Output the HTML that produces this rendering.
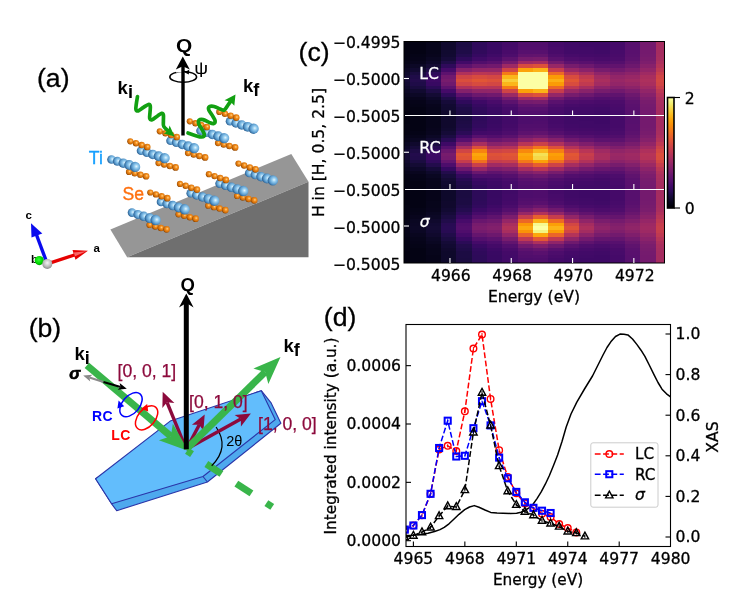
<!DOCTYPE html>
<html lang="en"><head><meta charset="utf-8"><title>Figure</title>
<style>html,body{margin:0;padding:0;background:#fff}svg{display:block}.dj{font-family:"DejaVu Sans","Liberation Sans",sans-serif;stroke:#000;stroke-width:0.3px}.wt{stroke:#fff}.ar{font-family:"Liberation Sans",Arial,sans-serif}.lb{stroke:#000;stroke-width:0.3px}</style></head><body>
<svg width="732" height="598" viewBox="0 0 732 598">
<rect width="732" height="598" fill="#fff"/>
<defs>
<radialGradient id="gTi" cx="0.62" cy="0.45" r="0.6"><stop offset="0" stop-color="#e6f6ff"/><stop offset="0.3" stop-color="#97cef0"/><stop offset="0.7" stop-color="#5a9bce"/><stop offset="1" stop-color="#2d6293"/></radialGradient>
<radialGradient id="gSe" cx="0.6" cy="0.42" r="0.6"><stop offset="0" stop-color="#ffd58a"/><stop offset="0.35" stop-color="#f59020"/><stop offset="0.8" stop-color="#cc6a06"/><stop offset="1" stop-color="#8c4300"/></radialGradient>
<radialGradient id="gGrey" cx="0.5" cy="0.4" r="0.6"><stop offset="0" stop-color="#f4f4f4"/><stop offset="0.6" stop-color="#bdbdbd"/><stop offset="1" stop-color="#8a8a8a"/></radialGradient>
<radialGradient id="gGreen" cx="0.45" cy="0.4" r="0.6"><stop offset="0" stop-color="#35ff35"/><stop offset="0.7" stop-color="#00d400"/><stop offset="1" stop-color="#00a000"/></radialGradient>
<linearGradient id="gCb" x1="0" y1="1" x2="0" y2="0">
<stop offset="0" stop-color="#000004"/>
<stop offset="0.05" stop-color="#07051b"/>
<stop offset="0.1" stop-color="#160b39"/>
<stop offset="0.15" stop-color="#2b0b57"/>
<stop offset="0.2" stop-color="#420a68"/>
<stop offset="0.25" stop-color="#57106e"/>
<stop offset="0.3" stop-color="#6a176e"/>
<stop offset="0.35" stop-color="#7f1e6c"/>
<stop offset="0.4" stop-color="#932667"/>
<stop offset="0.45" stop-color="#a82e5f"/>
<stop offset="0.5" stop-color="#bc3754"/>
<stop offset="0.55" stop-color="#cc4248"/>
<stop offset="0.6" stop-color="#dd513a"/>
<stop offset="0.65" stop-color="#ea632a"/>
<stop offset="0.7" stop-color="#f37819"/>
<stop offset="0.75" stop-color="#f98e09"/>
<stop offset="0.8" stop-color="#fca50a"/>
<stop offset="0.85" stop-color="#fbbe23"/>
<stop offset="0.9" stop-color="#f6d746"/>
<stop offset="0.95" stop-color="#f1ef75"/>
<stop offset="1" stop-color="#fcffa4"/>
</linearGradient>
</defs>
<g shape-rendering="crispEdges">
<rect x="404" y="41.5" width="6.76" height="1.73" fill="#030210"/>
<rect x="404" y="42.93" width="6.76" height="3.88" fill="#030210"/>
<rect x="404" y="46.51" width="6.76" height="3.88" fill="#030210"/>
<rect x="404" y="50.09" width="6.76" height="3.88" fill="#040312"/>
<rect x="404" y="53.67" width="6.76" height="3.88" fill="#040312"/>
<rect x="404" y="57.25" width="6.76" height="3.88" fill="#040314"/>
<rect x="404" y="60.83" width="6.76" height="3.88" fill="#050417"/>
<rect x="404" y="64.41" width="6.76" height="3.88" fill="#08051d"/>
<rect x="404" y="67.99" width="6.76" height="3.88" fill="#0b0724"/>
<rect x="404" y="71.57" width="6.76" height="3.88" fill="#0e092b"/>
<rect x="404" y="75.15" width="6.76" height="3.88" fill="#120a32"/>
<rect x="404" y="78.73" width="6.76" height="3.88" fill="#150b37"/>
<rect x="404" y="82.31" width="6.76" height="3.88" fill="#120a32"/>
<rect x="404" y="85.89" width="6.76" height="3.88" fill="#0e092b"/>
<rect x="404" y="89.47" width="6.76" height="3.88" fill="#0b0724"/>
<rect x="404" y="93.05" width="6.76" height="3.88" fill="#08051d"/>
<rect x="404" y="96.63" width="6.76" height="3.88" fill="#050417"/>
<rect x="404" y="100.21" width="6.76" height="3.88" fill="#040314"/>
<rect x="404" y="103.79" width="6.76" height="3.88" fill="#040312"/>
<rect x="404" y="107.37" width="6.76" height="3.88" fill="#040312"/>
<rect x="404" y="110.95" width="6.76" height="3.88" fill="#030210"/>
<rect x="404" y="114.53" width="6.76" height="1.27" fill="#030210"/>
<rect x="410.46" y="41.5" width="15.62" height="1.73" fill="#040314"/>
<rect x="410.46" y="42.93" width="15.62" height="3.88" fill="#040314"/>
<rect x="410.46" y="46.51" width="15.62" height="3.88" fill="#040314"/>
<rect x="410.46" y="50.09" width="15.62" height="3.88" fill="#040314"/>
<rect x="410.46" y="53.67" width="15.62" height="3.88" fill="#050417"/>
<rect x="410.46" y="57.25" width="15.62" height="3.88" fill="#060419"/>
<rect x="410.46" y="60.83" width="15.62" height="3.88" fill="#08051d"/>
<rect x="410.46" y="64.41" width="15.62" height="3.88" fill="#0c0826"/>
<rect x="410.46" y="67.99" width="15.62" height="3.88" fill="#110a30"/>
<rect x="410.46" y="71.57" width="15.62" height="3.88" fill="#190c3e"/>
<rect x="410.46" y="75.15" width="15.62" height="3.88" fill="#1f0c48"/>
<rect x="410.46" y="78.73" width="15.62" height="3.88" fill="#230c4c"/>
<rect x="410.46" y="82.31" width="15.62" height="3.88" fill="#1f0c48"/>
<rect x="410.46" y="85.89" width="15.62" height="3.88" fill="#190c3e"/>
<rect x="410.46" y="89.47" width="15.62" height="3.88" fill="#110a30"/>
<rect x="410.46" y="93.05" width="15.62" height="3.88" fill="#0c0826"/>
<rect x="410.46" y="96.63" width="15.62" height="3.88" fill="#08051d"/>
<rect x="410.46" y="100.21" width="15.62" height="3.88" fill="#060419"/>
<rect x="410.46" y="103.79" width="15.62" height="3.88" fill="#050417"/>
<rect x="410.46" y="107.37" width="15.62" height="3.88" fill="#040314"/>
<rect x="410.46" y="110.95" width="15.62" height="3.88" fill="#040314"/>
<rect x="410.46" y="114.53" width="15.62" height="1.27" fill="#040314"/>
<rect x="425.79" y="41.5" width="15.62" height="1.73" fill="#060419"/>
<rect x="425.79" y="42.93" width="15.62" height="3.88" fill="#07051b"/>
<rect x="425.79" y="46.51" width="15.62" height="3.88" fill="#07051b"/>
<rect x="425.79" y="50.09" width="15.62" height="3.88" fill="#07051b"/>
<rect x="425.79" y="53.67" width="15.62" height="3.88" fill="#08051d"/>
<rect x="425.79" y="57.25" width="15.62" height="3.88" fill="#0a0722"/>
<rect x="425.79" y="60.83" width="15.62" height="3.88" fill="#0d0829"/>
<rect x="425.79" y="64.41" width="15.62" height="3.88" fill="#140b34"/>
<rect x="425.79" y="67.99" width="15.62" height="3.88" fill="#1e0c45"/>
<rect x="425.79" y="71.57" width="15.62" height="3.88" fill="#2d0b59"/>
<rect x="425.79" y="75.15" width="15.62" height="3.88" fill="#380962"/>
<rect x="425.79" y="78.73" width="15.62" height="3.88" fill="#3d0965"/>
<rect x="425.79" y="82.31" width="15.62" height="3.88" fill="#380962"/>
<rect x="425.79" y="85.89" width="15.62" height="3.88" fill="#2b0b57"/>
<rect x="425.79" y="89.47" width="15.62" height="3.88" fill="#1e0c45"/>
<rect x="425.79" y="93.05" width="15.62" height="3.88" fill="#140b34"/>
<rect x="425.79" y="96.63" width="15.62" height="3.88" fill="#0d0829"/>
<rect x="425.79" y="100.21" width="15.62" height="3.88" fill="#0a0722"/>
<rect x="425.79" y="103.79" width="15.62" height="3.88" fill="#08051d"/>
<rect x="425.79" y="107.37" width="15.62" height="3.88" fill="#07051b"/>
<rect x="425.79" y="110.95" width="15.62" height="3.88" fill="#07051b"/>
<rect x="425.79" y="114.53" width="15.62" height="1.27" fill="#07051b"/>
<rect x="441.11" y="41.5" width="15.62" height="1.73" fill="#0e092b"/>
<rect x="441.11" y="42.93" width="15.62" height="3.88" fill="#10092d"/>
<rect x="441.11" y="46.51" width="15.62" height="3.88" fill="#10092d"/>
<rect x="441.11" y="50.09" width="15.62" height="3.88" fill="#110a30"/>
<rect x="441.11" y="53.67" width="15.62" height="3.88" fill="#120a32"/>
<rect x="441.11" y="57.25" width="15.62" height="3.88" fill="#160b39"/>
<rect x="441.11" y="60.83" width="15.62" height="3.88" fill="#1f0c48"/>
<rect x="441.11" y="64.41" width="15.62" height="3.88" fill="#2f0a5b"/>
<rect x="441.11" y="67.99" width="15.62" height="3.88" fill="#450a69"/>
<rect x="441.11" y="71.57" width="15.62" height="3.88" fill="#5d126e"/>
<rect x="441.11" y="75.15" width="15.62" height="3.88" fill="#71196e"/>
<rect x="441.11" y="78.73" width="15.62" height="3.88" fill="#771c6d"/>
<rect x="441.11" y="82.31" width="15.62" height="3.88" fill="#6f196e"/>
<rect x="441.11" y="85.89" width="15.62" height="3.88" fill="#5d126e"/>
<rect x="441.11" y="89.47" width="15.62" height="3.88" fill="#450a69"/>
<rect x="441.11" y="93.05" width="15.62" height="3.88" fill="#2f0a5b"/>
<rect x="441.11" y="96.63" width="15.62" height="3.88" fill="#1f0c48"/>
<rect x="441.11" y="100.21" width="15.62" height="3.88" fill="#160b39"/>
<rect x="441.11" y="103.79" width="15.62" height="3.88" fill="#120a32"/>
<rect x="441.11" y="107.37" width="15.62" height="3.88" fill="#110a30"/>
<rect x="441.11" y="110.95" width="15.62" height="3.88" fill="#10092d"/>
<rect x="441.11" y="114.53" width="15.62" height="1.27" fill="#10092d"/>
<rect x="456.43" y="41.5" width="15.62" height="1.73" fill="#1c0c43"/>
<rect x="456.43" y="42.93" width="15.62" height="3.88" fill="#1c0c43"/>
<rect x="456.43" y="46.51" width="15.62" height="3.88" fill="#1e0c45"/>
<rect x="456.43" y="50.09" width="15.62" height="3.88" fill="#1f0c48"/>
<rect x="456.43" y="53.67" width="15.62" height="3.88" fill="#240c4f"/>
<rect x="456.43" y="57.25" width="15.62" height="3.88" fill="#2f0a5b"/>
<rect x="456.43" y="60.83" width="15.62" height="3.88" fill="#420a68"/>
<rect x="456.43" y="64.41" width="15.62" height="3.88" fill="#5d126e"/>
<rect x="456.43" y="67.99" width="15.62" height="3.88" fill="#85216b"/>
<rect x="456.43" y="71.57" width="15.62" height="3.88" fill="#b0315b"/>
<rect x="456.43" y="75.15" width="15.62" height="3.88" fill="#cf4446"/>
<rect x="456.43" y="78.73" width="15.62" height="3.88" fill="#da4e3c"/>
<rect x="456.43" y="82.31" width="15.62" height="3.88" fill="#cf4446"/>
<rect x="456.43" y="85.89" width="15.62" height="3.88" fill="#ae305c"/>
<rect x="456.43" y="89.47" width="15.62" height="3.88" fill="#84206b"/>
<rect x="456.43" y="93.05" width="15.62" height="3.88" fill="#5d126e"/>
<rect x="456.43" y="96.63" width="15.62" height="3.88" fill="#400a67"/>
<rect x="456.43" y="100.21" width="15.62" height="3.88" fill="#2f0a5b"/>
<rect x="456.43" y="103.79" width="15.62" height="3.88" fill="#240c4f"/>
<rect x="456.43" y="107.37" width="15.62" height="3.88" fill="#1f0c48"/>
<rect x="456.43" y="110.95" width="15.62" height="3.88" fill="#1e0c45"/>
<rect x="456.43" y="114.53" width="15.62" height="1.27" fill="#1c0c43"/>
<rect x="471.76" y="41.5" width="15.62" height="1.73" fill="#2d0b59"/>
<rect x="471.76" y="42.93" width="15.62" height="3.88" fill="#2f0a5b"/>
<rect x="471.76" y="46.51" width="15.62" height="3.88" fill="#2f0a5b"/>
<rect x="471.76" y="50.09" width="15.62" height="3.88" fill="#310a5c"/>
<rect x="471.76" y="53.67" width="15.62" height="3.88" fill="#360961"/>
<rect x="471.76" y="57.25" width="15.62" height="3.88" fill="#400a67"/>
<rect x="471.76" y="60.83" width="15.62" height="3.88" fill="#510e6c"/>
<rect x="471.76" y="64.41" width="15.62" height="3.88" fill="#6c186e"/>
<rect x="471.76" y="67.99" width="15.62" height="3.88" fill="#922568"/>
<rect x="471.76" y="71.57" width="15.62" height="3.88" fill="#ba3655"/>
<rect x="471.76" y="75.15" width="15.62" height="3.88" fill="#d74b3f"/>
<rect x="471.76" y="78.73" width="15.62" height="3.88" fill="#e15635"/>
<rect x="471.76" y="82.31" width="15.62" height="3.88" fill="#d74b3f"/>
<rect x="471.76" y="85.89" width="15.62" height="3.88" fill="#b93556"/>
<rect x="471.76" y="89.47" width="15.62" height="3.88" fill="#902568"/>
<rect x="471.76" y="93.05" width="15.62" height="3.88" fill="#6c186e"/>
<rect x="471.76" y="96.63" width="15.62" height="3.88" fill="#510e6c"/>
<rect x="471.76" y="100.21" width="15.62" height="3.88" fill="#3e0966"/>
<rect x="471.76" y="103.79" width="15.62" height="3.88" fill="#360961"/>
<rect x="471.76" y="107.37" width="15.62" height="3.88" fill="#310a5c"/>
<rect x="471.76" y="110.95" width="15.62" height="3.88" fill="#2f0a5b"/>
<rect x="471.76" y="114.53" width="15.62" height="1.27" fill="#2f0a5b"/>
<rect x="487.08" y="41.5" width="15.62" height="1.73" fill="#390963"/>
<rect x="487.08" y="42.93" width="15.62" height="3.88" fill="#390963"/>
<rect x="487.08" y="46.51" width="15.62" height="3.88" fill="#390963"/>
<rect x="487.08" y="50.09" width="15.62" height="3.88" fill="#3b0964"/>
<rect x="487.08" y="53.67" width="15.62" height="3.88" fill="#400a67"/>
<rect x="487.08" y="57.25" width="15.62" height="3.88" fill="#490b6a"/>
<rect x="487.08" y="60.83" width="15.62" height="3.88" fill="#59106e"/>
<rect x="487.08" y="64.41" width="15.62" height="3.88" fill="#71196e"/>
<rect x="487.08" y="67.99" width="15.62" height="3.88" fill="#932667"/>
<rect x="487.08" y="71.57" width="15.62" height="3.88" fill="#b73557"/>
<rect x="487.08" y="75.15" width="15.62" height="3.88" fill="#d34743"/>
<rect x="487.08" y="78.73" width="15.62" height="3.88" fill="#dd513a"/>
<rect x="487.08" y="82.31" width="15.62" height="3.88" fill="#d34743"/>
<rect x="487.08" y="85.89" width="15.62" height="3.88" fill="#b73557"/>
<rect x="487.08" y="89.47" width="15.62" height="3.88" fill="#922568"/>
<rect x="487.08" y="93.05" width="15.62" height="3.88" fill="#71196e"/>
<rect x="487.08" y="96.63" width="15.62" height="3.88" fill="#57106e"/>
<rect x="487.08" y="100.21" width="15.62" height="3.88" fill="#490b6a"/>
<rect x="487.08" y="103.79" width="15.62" height="3.88" fill="#400a67"/>
<rect x="487.08" y="107.37" width="15.62" height="3.88" fill="#3b0964"/>
<rect x="487.08" y="110.95" width="15.62" height="3.88" fill="#390963"/>
<rect x="487.08" y="114.53" width="15.62" height="1.27" fill="#390963"/>
<rect x="502.4" y="41.5" width="15.62" height="1.73" fill="#420a68"/>
<rect x="502.4" y="42.93" width="15.62" height="3.88" fill="#440a68"/>
<rect x="502.4" y="46.51" width="15.62" height="3.88" fill="#450a69"/>
<rect x="502.4" y="50.09" width="15.62" height="3.88" fill="#490b6a"/>
<rect x="502.4" y="53.67" width="15.62" height="3.88" fill="#4d0d6c"/>
<rect x="502.4" y="57.25" width="15.62" height="3.88" fill="#5c126e"/>
<rect x="502.4" y="60.83" width="15.62" height="3.88" fill="#741a6e"/>
<rect x="502.4" y="64.41" width="15.62" height="3.88" fill="#9d2964"/>
<rect x="502.4" y="67.99" width="15.62" height="3.88" fill="#cf4446"/>
<rect x="502.4" y="71.57" width="15.62" height="3.88" fill="#f57b17"/>
<rect x="502.4" y="75.15" width="15.62" height="3.88" fill="#fbb61a"/>
<rect x="502.4" y="78.73" width="15.62" height="3.88" fill="#f8cf3a"/>
<rect x="502.4" y="82.31" width="15.62" height="3.88" fill="#fbb61a"/>
<rect x="502.4" y="85.89" width="15.62" height="3.88" fill="#f57b17"/>
<rect x="502.4" y="89.47" width="15.62" height="3.88" fill="#cf4446"/>
<rect x="502.4" y="93.05" width="15.62" height="3.88" fill="#9b2964"/>
<rect x="502.4" y="96.63" width="15.62" height="3.88" fill="#741a6e"/>
<rect x="502.4" y="100.21" width="15.62" height="3.88" fill="#5c126e"/>
<rect x="502.4" y="103.79" width="15.62" height="3.88" fill="#4d0d6c"/>
<rect x="502.4" y="107.37" width="15.62" height="3.88" fill="#470b6a"/>
<rect x="502.4" y="110.95" width="15.62" height="3.88" fill="#450a69"/>
<rect x="502.4" y="114.53" width="15.62" height="1.27" fill="#440a68"/>
<rect x="517.73" y="41.5" width="15.62" height="1.73" fill="#4f0d6c"/>
<rect x="517.73" y="42.93" width="15.62" height="3.88" fill="#510e6c"/>
<rect x="517.73" y="46.51" width="15.62" height="3.88" fill="#520e6d"/>
<rect x="517.73" y="50.09" width="15.62" height="3.88" fill="#57106e"/>
<rect x="517.73" y="53.67" width="15.62" height="3.88" fill="#61136e"/>
<rect x="517.73" y="57.25" width="15.62" height="3.88" fill="#751b6e"/>
<rect x="517.73" y="60.83" width="15.62" height="3.88" fill="#9d2964"/>
<rect x="517.73" y="64.41" width="15.62" height="3.88" fill="#d74b3f"/>
<rect x="517.73" y="67.99" width="15.62" height="3.88" fill="#fca309"/>
<rect x="517.73" y="71.57" width="15.62" height="3.88" fill="#fcffa4"/>
<rect x="517.73" y="75.15" width="15.62" height="3.88" fill="#fcffa4"/>
<rect x="517.73" y="78.73" width="15.62" height="3.88" fill="#fcffa4"/>
<rect x="517.73" y="82.31" width="15.62" height="3.88" fill="#fcffa4"/>
<rect x="517.73" y="85.89" width="15.62" height="3.88" fill="#fcffa4"/>
<rect x="517.73" y="89.47" width="15.62" height="3.88" fill="#fca108"/>
<rect x="517.73" y="93.05" width="15.62" height="3.88" fill="#d54a41"/>
<rect x="517.73" y="96.63" width="15.62" height="3.88" fill="#9b2964"/>
<rect x="517.73" y="100.21" width="15.62" height="3.88" fill="#751b6e"/>
<rect x="517.73" y="103.79" width="15.62" height="3.88" fill="#61136e"/>
<rect x="517.73" y="107.37" width="15.62" height="3.88" fill="#57106e"/>
<rect x="517.73" y="110.95" width="15.62" height="3.88" fill="#520e6d"/>
<rect x="517.73" y="114.53" width="15.62" height="1.27" fill="#510e6c"/>
<rect x="533.05" y="41.5" width="15.62" height="1.73" fill="#4f0d6c"/>
<rect x="533.05" y="42.93" width="15.62" height="3.88" fill="#510e6c"/>
<rect x="533.05" y="46.51" width="15.62" height="3.88" fill="#520e6d"/>
<rect x="533.05" y="50.09" width="15.62" height="3.88" fill="#57106e"/>
<rect x="533.05" y="53.67" width="15.62" height="3.88" fill="#62146e"/>
<rect x="533.05" y="57.25" width="15.62" height="3.88" fill="#781c6d"/>
<rect x="533.05" y="60.83" width="15.62" height="3.88" fill="#a22b62"/>
<rect x="533.05" y="64.41" width="15.62" height="3.88" fill="#dd513a"/>
<rect x="533.05" y="67.99" width="15.62" height="3.88" fill="#fcb216"/>
<rect x="533.05" y="71.57" width="15.62" height="3.88" fill="#fcffa4"/>
<rect x="533.05" y="75.15" width="15.62" height="3.88" fill="#fcffa4"/>
<rect x="533.05" y="78.73" width="15.62" height="3.88" fill="#fcffa4"/>
<rect x="533.05" y="82.31" width="15.62" height="3.88" fill="#fcffa4"/>
<rect x="533.05" y="85.89" width="15.62" height="3.88" fill="#fcffa4"/>
<rect x="533.05" y="89.47" width="15.62" height="3.88" fill="#fcb216"/>
<rect x="533.05" y="93.05" width="15.62" height="3.88" fill="#dd513a"/>
<rect x="533.05" y="96.63" width="15.62" height="3.88" fill="#a22b62"/>
<rect x="533.05" y="100.21" width="15.62" height="3.88" fill="#781c6d"/>
<rect x="533.05" y="103.79" width="15.62" height="3.88" fill="#62146e"/>
<rect x="533.05" y="107.37" width="15.62" height="3.88" fill="#57106e"/>
<rect x="533.05" y="110.95" width="15.62" height="3.88" fill="#520e6d"/>
<rect x="533.05" y="114.53" width="15.62" height="1.27" fill="#510e6c"/>
<rect x="548.37" y="41.5" width="15.62" height="1.73" fill="#450a69"/>
<rect x="548.37" y="42.93" width="15.62" height="3.88" fill="#450a69"/>
<rect x="548.37" y="46.51" width="15.62" height="3.88" fill="#470b6a"/>
<rect x="548.37" y="50.09" width="15.62" height="3.88" fill="#490b6a"/>
<rect x="548.37" y="53.67" width="15.62" height="3.88" fill="#4f0d6c"/>
<rect x="548.37" y="57.25" width="15.62" height="3.88" fill="#5a116e"/>
<rect x="548.37" y="60.83" width="15.62" height="3.88" fill="#721a6e"/>
<rect x="548.37" y="64.41" width="15.62" height="3.88" fill="#972766"/>
<rect x="548.37" y="67.99" width="15.62" height="3.88" fill="#c63d4d"/>
<rect x="548.37" y="71.57" width="15.62" height="3.88" fill="#ed6925"/>
<rect x="548.37" y="75.15" width="15.62" height="3.88" fill="#fb9b06"/>
<rect x="548.37" y="78.73" width="15.62" height="3.88" fill="#fcb014"/>
<rect x="548.37" y="82.31" width="15.62" height="3.88" fill="#fb9b06"/>
<rect x="548.37" y="85.89" width="15.62" height="3.88" fill="#ed6925"/>
<rect x="548.37" y="89.47" width="15.62" height="3.88" fill="#c63d4d"/>
<rect x="548.37" y="93.05" width="15.62" height="3.88" fill="#952667"/>
<rect x="548.37" y="96.63" width="15.62" height="3.88" fill="#71196e"/>
<rect x="548.37" y="100.21" width="15.62" height="3.88" fill="#5a116e"/>
<rect x="548.37" y="103.79" width="15.62" height="3.88" fill="#4f0d6c"/>
<rect x="548.37" y="107.37" width="15.62" height="3.88" fill="#490b6a"/>
<rect x="548.37" y="110.95" width="15.62" height="3.88" fill="#470b6a"/>
<rect x="548.37" y="114.53" width="15.62" height="1.27" fill="#450a69"/>
<rect x="563.7" y="41.5" width="15.62" height="1.73" fill="#3e0966"/>
<rect x="563.7" y="42.93" width="15.62" height="3.88" fill="#400a67"/>
<rect x="563.7" y="46.51" width="15.62" height="3.88" fill="#400a67"/>
<rect x="563.7" y="50.09" width="15.62" height="3.88" fill="#420a68"/>
<rect x="563.7" y="53.67" width="15.62" height="3.88" fill="#470b6a"/>
<rect x="563.7" y="57.25" width="15.62" height="3.88" fill="#4f0d6c"/>
<rect x="563.7" y="60.83" width="15.62" height="3.88" fill="#5d126e"/>
<rect x="563.7" y="64.41" width="15.62" height="3.88" fill="#771c6d"/>
<rect x="563.7" y="67.99" width="15.62" height="3.88" fill="#982766"/>
<rect x="563.7" y="71.57" width="15.62" height="3.88" fill="#bd3853"/>
<rect x="563.7" y="75.15" width="15.62" height="3.88" fill="#d84c3e"/>
<rect x="563.7" y="78.73" width="15.62" height="3.88" fill="#e15635"/>
<rect x="563.7" y="82.31" width="15.62" height="3.88" fill="#d84c3e"/>
<rect x="563.7" y="85.89" width="15.62" height="3.88" fill="#bd3853"/>
<rect x="563.7" y="89.47" width="15.62" height="3.88" fill="#982766"/>
<rect x="563.7" y="93.05" width="15.62" height="3.88" fill="#771c6d"/>
<rect x="563.7" y="96.63" width="15.62" height="3.88" fill="#5d126e"/>
<rect x="563.7" y="100.21" width="15.62" height="3.88" fill="#4f0d6c"/>
<rect x="563.7" y="103.79" width="15.62" height="3.88" fill="#470b6a"/>
<rect x="563.7" y="107.37" width="15.62" height="3.88" fill="#420a68"/>
<rect x="563.7" y="110.95" width="15.62" height="3.88" fill="#400a67"/>
<rect x="563.7" y="114.53" width="15.62" height="1.27" fill="#400a67"/>
<rect x="579.02" y="41.5" width="15.62" height="1.73" fill="#3e0966"/>
<rect x="579.02" y="42.93" width="15.62" height="3.88" fill="#3e0966"/>
<rect x="579.02" y="46.51" width="15.62" height="3.88" fill="#400a67"/>
<rect x="579.02" y="50.09" width="15.62" height="3.88" fill="#420a68"/>
<rect x="579.02" y="53.67" width="15.62" height="3.88" fill="#450a69"/>
<rect x="579.02" y="57.25" width="15.62" height="3.88" fill="#4c0c6b"/>
<rect x="579.02" y="60.83" width="15.62" height="3.88" fill="#59106e"/>
<rect x="579.02" y="64.41" width="15.62" height="3.88" fill="#6d186e"/>
<rect x="579.02" y="67.99" width="15.62" height="3.88" fill="#8a226a"/>
<rect x="579.02" y="71.57" width="15.62" height="3.88" fill="#a82e5f"/>
<rect x="579.02" y="75.15" width="15.62" height="3.88" fill="#c13a50"/>
<rect x="579.02" y="78.73" width="15.62" height="3.88" fill="#ca404a"/>
<rect x="579.02" y="82.31" width="15.62" height="3.88" fill="#c13a50"/>
<rect x="579.02" y="85.89" width="15.62" height="3.88" fill="#a82e5f"/>
<rect x="579.02" y="89.47" width="15.62" height="3.88" fill="#88226a"/>
<rect x="579.02" y="93.05" width="15.62" height="3.88" fill="#6d186e"/>
<rect x="579.02" y="96.63" width="15.62" height="3.88" fill="#59106e"/>
<rect x="579.02" y="100.21" width="15.62" height="3.88" fill="#4c0c6b"/>
<rect x="579.02" y="103.79" width="15.62" height="3.88" fill="#450a69"/>
<rect x="579.02" y="107.37" width="15.62" height="3.88" fill="#420a68"/>
<rect x="579.02" y="110.95" width="15.62" height="3.88" fill="#400a67"/>
<rect x="579.02" y="114.53" width="15.62" height="1.27" fill="#3e0966"/>
<rect x="594.34" y="41.5" width="15.62" height="1.73" fill="#3e0966"/>
<rect x="594.34" y="42.93" width="15.62" height="3.88" fill="#3e0966"/>
<rect x="594.34" y="46.51" width="15.62" height="3.88" fill="#3e0966"/>
<rect x="594.34" y="50.09" width="15.62" height="3.88" fill="#400a67"/>
<rect x="594.34" y="53.67" width="15.62" height="3.88" fill="#440a68"/>
<rect x="594.34" y="57.25" width="15.62" height="3.88" fill="#490b6a"/>
<rect x="594.34" y="60.83" width="15.62" height="3.88" fill="#520e6d"/>
<rect x="594.34" y="64.41" width="15.62" height="3.88" fill="#61136e"/>
<rect x="594.34" y="67.99" width="15.62" height="3.88" fill="#771c6d"/>
<rect x="594.34" y="71.57" width="15.62" height="3.88" fill="#8f2469"/>
<rect x="594.34" y="75.15" width="15.62" height="3.88" fill="#a22b62"/>
<rect x="594.34" y="78.73" width="15.62" height="3.88" fill="#a92e5e"/>
<rect x="594.34" y="82.31" width="15.62" height="3.88" fill="#a22b62"/>
<rect x="594.34" y="85.89" width="15.62" height="3.88" fill="#8d2369"/>
<rect x="594.34" y="89.47" width="15.62" height="3.88" fill="#771c6d"/>
<rect x="594.34" y="93.05" width="15.62" height="3.88" fill="#61136e"/>
<rect x="594.34" y="96.63" width="15.62" height="3.88" fill="#520e6d"/>
<rect x="594.34" y="100.21" width="15.62" height="3.88" fill="#490b6a"/>
<rect x="594.34" y="103.79" width="15.62" height="3.88" fill="#440a68"/>
<rect x="594.34" y="107.37" width="15.62" height="3.88" fill="#400a67"/>
<rect x="594.34" y="110.95" width="15.62" height="3.88" fill="#3e0966"/>
<rect x="594.34" y="114.53" width="15.62" height="1.27" fill="#3e0966"/>
<rect x="609.67" y="41.5" width="15.62" height="1.73" fill="#450a69"/>
<rect x="609.67" y="42.93" width="15.62" height="3.88" fill="#450a69"/>
<rect x="609.67" y="46.51" width="15.62" height="3.88" fill="#450a69"/>
<rect x="609.67" y="50.09" width="15.62" height="3.88" fill="#470b6a"/>
<rect x="609.67" y="53.67" width="15.62" height="3.88" fill="#490b6a"/>
<rect x="609.67" y="57.25" width="15.62" height="3.88" fill="#4c0c6b"/>
<rect x="609.67" y="60.83" width="15.62" height="3.88" fill="#540f6d"/>
<rect x="609.67" y="64.41" width="15.62" height="3.88" fill="#61136e"/>
<rect x="609.67" y="67.99" width="15.62" height="3.88" fill="#71196e"/>
<rect x="609.67" y="71.57" width="15.62" height="3.88" fill="#84206b"/>
<rect x="609.67" y="75.15" width="15.62" height="3.88" fill="#922568"/>
<rect x="609.67" y="78.73" width="15.62" height="3.88" fill="#982766"/>
<rect x="609.67" y="82.31" width="15.62" height="3.88" fill="#922568"/>
<rect x="609.67" y="85.89" width="15.62" height="3.88" fill="#84206b"/>
<rect x="609.67" y="89.47" width="15.62" height="3.88" fill="#71196e"/>
<rect x="609.67" y="93.05" width="15.62" height="3.88" fill="#5f136e"/>
<rect x="609.67" y="96.63" width="15.62" height="3.88" fill="#540f6d"/>
<rect x="609.67" y="100.21" width="15.62" height="3.88" fill="#4c0c6b"/>
<rect x="609.67" y="103.79" width="15.62" height="3.88" fill="#490b6a"/>
<rect x="609.67" y="107.37" width="15.62" height="3.88" fill="#470b6a"/>
<rect x="609.67" y="110.95" width="15.62" height="3.88" fill="#450a69"/>
<rect x="609.67" y="114.53" width="15.62" height="1.27" fill="#450a69"/>
<rect x="624.99" y="41.5" width="15.62" height="1.73" fill="#57106e"/>
<rect x="624.99" y="42.93" width="15.62" height="3.88" fill="#57106e"/>
<rect x="624.99" y="46.51" width="15.62" height="3.88" fill="#57106e"/>
<rect x="624.99" y="50.09" width="15.62" height="3.88" fill="#59106e"/>
<rect x="624.99" y="53.67" width="15.62" height="3.88" fill="#5a116e"/>
<rect x="624.99" y="57.25" width="15.62" height="3.88" fill="#5d126e"/>
<rect x="624.99" y="60.83" width="15.62" height="3.88" fill="#64156e"/>
<rect x="624.99" y="64.41" width="15.62" height="3.88" fill="#6d186e"/>
<rect x="624.99" y="67.99" width="15.62" height="3.88" fill="#7c1d6d"/>
<rect x="624.99" y="71.57" width="15.62" height="3.88" fill="#8c2369"/>
<rect x="624.99" y="75.15" width="15.62" height="3.88" fill="#982766"/>
<rect x="624.99" y="78.73" width="15.62" height="3.88" fill="#9f2a63"/>
<rect x="624.99" y="82.31" width="15.62" height="3.88" fill="#982766"/>
<rect x="624.99" y="85.89" width="15.62" height="3.88" fill="#8c2369"/>
<rect x="624.99" y="89.47" width="15.62" height="3.88" fill="#7c1d6d"/>
<rect x="624.99" y="93.05" width="15.62" height="3.88" fill="#6d186e"/>
<rect x="624.99" y="96.63" width="15.62" height="3.88" fill="#64156e"/>
<rect x="624.99" y="100.21" width="15.62" height="3.88" fill="#5d126e"/>
<rect x="624.99" y="103.79" width="15.62" height="3.88" fill="#5a116e"/>
<rect x="624.99" y="107.37" width="15.62" height="3.88" fill="#59106e"/>
<rect x="624.99" y="110.95" width="15.62" height="3.88" fill="#57106e"/>
<rect x="624.99" y="114.53" width="15.62" height="1.27" fill="#57106e"/>
<rect x="640.31" y="41.5" width="15.62" height="1.73" fill="#741a6e"/>
<rect x="640.31" y="42.93" width="15.62" height="3.88" fill="#741a6e"/>
<rect x="640.31" y="46.51" width="15.62" height="3.88" fill="#741a6e"/>
<rect x="640.31" y="50.09" width="15.62" height="3.88" fill="#741a6e"/>
<rect x="640.31" y="53.67" width="15.62" height="3.88" fill="#751b6e"/>
<rect x="640.31" y="57.25" width="15.62" height="3.88" fill="#781c6d"/>
<rect x="640.31" y="60.83" width="15.62" height="3.88" fill="#7d1e6d"/>
<rect x="640.31" y="64.41" width="15.62" height="3.88" fill="#87216b"/>
<rect x="640.31" y="67.99" width="15.62" height="3.88" fill="#922568"/>
<rect x="640.31" y="71.57" width="15.62" height="3.88" fill="#9f2a63"/>
<rect x="640.31" y="75.15" width="15.62" height="3.88" fill="#a92e5e"/>
<rect x="640.31" y="78.73" width="15.62" height="3.88" fill="#ad305d"/>
<rect x="640.31" y="82.31" width="15.62" height="3.88" fill="#a92e5e"/>
<rect x="640.31" y="85.89" width="15.62" height="3.88" fill="#9f2a63"/>
<rect x="640.31" y="89.47" width="15.62" height="3.88" fill="#922568"/>
<rect x="640.31" y="93.05" width="15.62" height="3.88" fill="#87216b"/>
<rect x="640.31" y="96.63" width="15.62" height="3.88" fill="#7d1e6d"/>
<rect x="640.31" y="100.21" width="15.62" height="3.88" fill="#781c6d"/>
<rect x="640.31" y="103.79" width="15.62" height="3.88" fill="#751b6e"/>
<rect x="640.31" y="107.37" width="15.62" height="3.88" fill="#741a6e"/>
<rect x="640.31" y="110.95" width="15.62" height="3.88" fill="#741a6e"/>
<rect x="640.31" y="114.53" width="15.62" height="1.27" fill="#741a6e"/>
<rect x="655.64" y="41.5" width="9.16" height="1.73" fill="#a52c60"/>
<rect x="655.64" y="42.93" width="9.16" height="3.88" fill="#a52c60"/>
<rect x="655.64" y="46.51" width="9.16" height="3.88" fill="#a52c60"/>
<rect x="655.64" y="50.09" width="9.16" height="3.88" fill="#a52c60"/>
<rect x="655.64" y="53.67" width="9.16" height="3.88" fill="#a62d60"/>
<rect x="655.64" y="57.25" width="9.16" height="3.88" fill="#a82e5f"/>
<rect x="655.64" y="60.83" width="9.16" height="3.88" fill="#ad305d"/>
<rect x="655.64" y="64.41" width="9.16" height="3.88" fill="#b43359"/>
<rect x="655.64" y="67.99" width="9.16" height="3.88" fill="#bd3853"/>
<rect x="655.64" y="71.57" width="9.16" height="3.88" fill="#c83f4b"/>
<rect x="655.64" y="75.15" width="9.16" height="3.88" fill="#d04545"/>
<rect x="655.64" y="78.73" width="9.16" height="3.88" fill="#d34743"/>
<rect x="655.64" y="82.31" width="9.16" height="3.88" fill="#d04545"/>
<rect x="655.64" y="85.89" width="9.16" height="3.88" fill="#c83f4b"/>
<rect x="655.64" y="89.47" width="9.16" height="3.88" fill="#bd3853"/>
<rect x="655.64" y="93.05" width="9.16" height="3.88" fill="#b43359"/>
<rect x="655.64" y="96.63" width="9.16" height="3.88" fill="#ad305d"/>
<rect x="655.64" y="100.21" width="9.16" height="3.88" fill="#a82e5f"/>
<rect x="655.64" y="103.79" width="9.16" height="3.88" fill="#a62d60"/>
<rect x="655.64" y="107.37" width="9.16" height="3.88" fill="#a52c60"/>
<rect x="655.64" y="110.95" width="9.16" height="3.88" fill="#a52c60"/>
<rect x="655.64" y="114.53" width="9.16" height="1.27" fill="#a52c60"/>
<rect x="404" y="115.5" width="6.76" height="1.73" fill="#030210"/>
<rect x="404" y="116.93" width="6.76" height="3.88" fill="#030210"/>
<rect x="404" y="120.51" width="6.76" height="3.88" fill="#030210"/>
<rect x="404" y="124.09" width="6.76" height="3.88" fill="#040312"/>
<rect x="404" y="127.67" width="6.76" height="3.88" fill="#040312"/>
<rect x="404" y="131.25" width="6.76" height="3.88" fill="#040312"/>
<rect x="404" y="134.83" width="6.76" height="3.88" fill="#050417"/>
<rect x="404" y="138.41" width="6.76" height="3.88" fill="#07051b"/>
<rect x="404" y="141.99" width="6.76" height="3.88" fill="#0a0722"/>
<rect x="404" y="145.57" width="6.76" height="3.88" fill="#0d0829"/>
<rect x="404" y="149.15" width="6.76" height="3.88" fill="#120a32"/>
<rect x="404" y="152.73" width="6.76" height="3.88" fill="#140b34"/>
<rect x="404" y="156.31" width="6.76" height="3.88" fill="#140b34"/>
<rect x="404" y="159.89" width="6.76" height="3.88" fill="#10092d"/>
<rect x="404" y="163.47" width="6.76" height="3.88" fill="#0c0826"/>
<rect x="404" y="167.05" width="6.76" height="3.88" fill="#09061f"/>
<rect x="404" y="170.63" width="6.76" height="3.88" fill="#060419"/>
<rect x="404" y="174.21" width="6.76" height="3.88" fill="#040314"/>
<rect x="404" y="177.79" width="6.76" height="3.88" fill="#040312"/>
<rect x="404" y="181.37" width="6.76" height="3.88" fill="#040312"/>
<rect x="404" y="184.95" width="6.76" height="3.88" fill="#040312"/>
<rect x="404" y="188.53" width="6.76" height="0.77" fill="#030210"/>
<rect x="410.46" y="115.5" width="15.62" height="1.73" fill="#040314"/>
<rect x="410.46" y="116.93" width="15.62" height="3.88" fill="#040314"/>
<rect x="410.46" y="120.51" width="15.62" height="3.88" fill="#040314"/>
<rect x="410.46" y="124.09" width="15.62" height="3.88" fill="#040314"/>
<rect x="410.46" y="127.67" width="15.62" height="3.88" fill="#040314"/>
<rect x="410.46" y="131.25" width="15.62" height="3.88" fill="#050417"/>
<rect x="410.46" y="134.83" width="15.62" height="3.88" fill="#07051b"/>
<rect x="410.46" y="138.41" width="15.62" height="3.88" fill="#0a0722"/>
<rect x="410.46" y="141.99" width="15.62" height="3.88" fill="#10092d"/>
<rect x="410.46" y="145.57" width="15.62" height="3.88" fill="#160b39"/>
<rect x="410.46" y="149.15" width="15.62" height="3.88" fill="#1e0c45"/>
<rect x="410.46" y="152.73" width="15.62" height="3.88" fill="#230c4c"/>
<rect x="410.46" y="156.31" width="15.62" height="3.88" fill="#210c4a"/>
<rect x="410.46" y="159.89" width="15.62" height="3.88" fill="#1b0c41"/>
<rect x="410.46" y="163.47" width="15.62" height="3.88" fill="#140b34"/>
<rect x="410.46" y="167.05" width="15.62" height="3.88" fill="#0d0829"/>
<rect x="410.46" y="170.63" width="15.62" height="3.88" fill="#09061f"/>
<rect x="410.46" y="174.21" width="15.62" height="3.88" fill="#060419"/>
<rect x="410.46" y="177.79" width="15.62" height="3.88" fill="#050417"/>
<rect x="410.46" y="181.37" width="15.62" height="3.88" fill="#040314"/>
<rect x="410.46" y="184.95" width="15.62" height="3.88" fill="#040314"/>
<rect x="410.46" y="188.53" width="15.62" height="0.77" fill="#040314"/>
<rect x="425.79" y="115.5" width="15.62" height="1.73" fill="#060419"/>
<rect x="425.79" y="116.93" width="15.62" height="3.88" fill="#07051b"/>
<rect x="425.79" y="120.51" width="15.62" height="3.88" fill="#07051b"/>
<rect x="425.79" y="124.09" width="15.62" height="3.88" fill="#07051b"/>
<rect x="425.79" y="127.67" width="15.62" height="3.88" fill="#08051d"/>
<rect x="425.79" y="131.25" width="15.62" height="3.88" fill="#09061f"/>
<rect x="425.79" y="134.83" width="15.62" height="3.88" fill="#0c0826"/>
<rect x="425.79" y="138.41" width="15.62" height="3.88" fill="#110a30"/>
<rect x="425.79" y="141.99" width="15.62" height="3.88" fill="#1b0c41"/>
<rect x="425.79" y="145.57" width="15.62" height="3.88" fill="#280b53"/>
<rect x="425.79" y="149.15" width="15.62" height="3.88" fill="#340a5f"/>
<rect x="425.79" y="152.73" width="15.62" height="3.88" fill="#3d0965"/>
<rect x="425.79" y="156.31" width="15.62" height="3.88" fill="#3b0964"/>
<rect x="425.79" y="159.89" width="15.62" height="3.88" fill="#310a5c"/>
<rect x="425.79" y="163.47" width="15.62" height="3.88" fill="#230c4c"/>
<rect x="425.79" y="167.05" width="15.62" height="3.88" fill="#160b39"/>
<rect x="425.79" y="170.63" width="15.62" height="3.88" fill="#0e092b"/>
<rect x="425.79" y="174.21" width="15.62" height="3.88" fill="#0a0722"/>
<rect x="425.79" y="177.79" width="15.62" height="3.88" fill="#08051d"/>
<rect x="425.79" y="181.37" width="15.62" height="3.88" fill="#07051b"/>
<rect x="425.79" y="184.95" width="15.62" height="3.88" fill="#07051b"/>
<rect x="425.79" y="188.53" width="15.62" height="0.77" fill="#07051b"/>
<rect x="441.11" y="115.5" width="15.62" height="1.73" fill="#0e092b"/>
<rect x="441.11" y="116.93" width="15.62" height="3.88" fill="#10092d"/>
<rect x="441.11" y="120.51" width="15.62" height="3.88" fill="#10092d"/>
<rect x="441.11" y="124.09" width="15.62" height="3.88" fill="#10092d"/>
<rect x="441.11" y="127.67" width="15.62" height="3.88" fill="#110a30"/>
<rect x="441.11" y="131.25" width="15.62" height="3.88" fill="#150b37"/>
<rect x="441.11" y="134.83" width="15.62" height="3.88" fill="#1c0c43"/>
<rect x="441.11" y="138.41" width="15.62" height="3.88" fill="#290b55"/>
<rect x="441.11" y="141.99" width="15.62" height="3.88" fill="#3e0966"/>
<rect x="441.11" y="145.57" width="15.62" height="3.88" fill="#550f6d"/>
<rect x="441.11" y="149.15" width="15.62" height="3.88" fill="#6a176e"/>
<rect x="441.11" y="152.73" width="15.62" height="3.88" fill="#771c6d"/>
<rect x="441.11" y="156.31" width="15.62" height="3.88" fill="#741a6e"/>
<rect x="441.11" y="159.89" width="15.62" height="3.88" fill="#64156e"/>
<rect x="441.11" y="163.47" width="15.62" height="3.88" fill="#4d0d6c"/>
<rect x="441.11" y="167.05" width="15.62" height="3.88" fill="#360961"/>
<rect x="441.11" y="170.63" width="15.62" height="3.88" fill="#230c4c"/>
<rect x="441.11" y="174.21" width="15.62" height="3.88" fill="#190c3e"/>
<rect x="441.11" y="177.79" width="15.62" height="3.88" fill="#140b34"/>
<rect x="441.11" y="181.37" width="15.62" height="3.88" fill="#110a30"/>
<rect x="441.11" y="184.95" width="15.62" height="3.88" fill="#10092d"/>
<rect x="441.11" y="188.53" width="15.62" height="0.77" fill="#10092d"/>
<rect x="456.43" y="115.5" width="15.62" height="1.73" fill="#1c0c43"/>
<rect x="456.43" y="116.93" width="15.62" height="3.88" fill="#1c0c43"/>
<rect x="456.43" y="120.51" width="15.62" height="3.88" fill="#1e0c45"/>
<rect x="456.43" y="124.09" width="15.62" height="3.88" fill="#1f0c48"/>
<rect x="456.43" y="127.67" width="15.62" height="3.88" fill="#230c4c"/>
<rect x="456.43" y="131.25" width="15.62" height="3.88" fill="#2b0b57"/>
<rect x="456.43" y="134.83" width="15.62" height="3.88" fill="#3d0965"/>
<rect x="456.43" y="138.41" width="15.62" height="3.88" fill="#57106e"/>
<rect x="456.43" y="141.99" width="15.62" height="3.88" fill="#7d1e6d"/>
<rect x="456.43" y="145.57" width="15.62" height="3.88" fill="#a92e5e"/>
<rect x="456.43" y="149.15" width="15.62" height="3.88" fill="#d04545"/>
<rect x="456.43" y="152.73" width="15.62" height="3.88" fill="#e25734"/>
<rect x="456.43" y="156.31" width="15.62" height="3.88" fill="#de5238"/>
<rect x="456.43" y="159.89" width="15.62" height="3.88" fill="#c43c4e"/>
<rect x="456.43" y="163.47" width="15.62" height="3.88" fill="#9a2865"/>
<rect x="456.43" y="167.05" width="15.62" height="3.88" fill="#6d186e"/>
<rect x="456.43" y="170.63" width="15.62" height="3.88" fill="#4c0c6b"/>
<rect x="456.43" y="174.21" width="15.62" height="3.88" fill="#340a5f"/>
<rect x="456.43" y="177.79" width="15.62" height="3.88" fill="#280b53"/>
<rect x="456.43" y="181.37" width="15.62" height="3.88" fill="#210c4a"/>
<rect x="456.43" y="184.95" width="15.62" height="3.88" fill="#1e0c45"/>
<rect x="456.43" y="188.53" width="15.62" height="0.77" fill="#1e0c45"/>
<rect x="471.76" y="115.5" width="15.62" height="1.73" fill="#2f0a5b"/>
<rect x="471.76" y="116.93" width="15.62" height="3.88" fill="#2f0a5b"/>
<rect x="471.76" y="120.51" width="15.62" height="3.88" fill="#310a5c"/>
<rect x="471.76" y="124.09" width="15.62" height="3.88" fill="#320a5e"/>
<rect x="471.76" y="127.67" width="15.62" height="3.88" fill="#380962"/>
<rect x="471.76" y="131.25" width="15.62" height="3.88" fill="#420a68"/>
<rect x="471.76" y="134.83" width="15.62" height="3.88" fill="#57106e"/>
<rect x="471.76" y="138.41" width="15.62" height="3.88" fill="#781c6d"/>
<rect x="471.76" y="141.99" width="15.62" height="3.88" fill="#a82e5f"/>
<rect x="471.76" y="145.57" width="15.62" height="3.88" fill="#db503b"/>
<rect x="471.76" y="149.15" width="15.62" height="3.88" fill="#f78410"/>
<rect x="471.76" y="152.73" width="15.62" height="3.88" fill="#fca60c"/>
<rect x="471.76" y="156.31" width="15.62" height="3.88" fill="#fb9d07"/>
<rect x="471.76" y="159.89" width="15.62" height="3.88" fill="#f06f20"/>
<rect x="471.76" y="163.47" width="15.62" height="3.88" fill="#ca404a"/>
<rect x="471.76" y="167.05" width="15.62" height="3.88" fill="#952667"/>
<rect x="471.76" y="170.63" width="15.62" height="3.88" fill="#6a176e"/>
<rect x="471.76" y="174.21" width="15.62" height="3.88" fill="#4d0d6c"/>
<rect x="471.76" y="177.79" width="15.62" height="3.88" fill="#3d0965"/>
<rect x="471.76" y="181.37" width="15.62" height="3.88" fill="#360961"/>
<rect x="471.76" y="184.95" width="15.62" height="3.88" fill="#310a5c"/>
<rect x="471.76" y="188.53" width="15.62" height="0.77" fill="#2f0a5b"/>
<rect x="487.08" y="115.5" width="15.62" height="1.73" fill="#380962"/>
<rect x="487.08" y="116.93" width="15.62" height="3.88" fill="#390963"/>
<rect x="487.08" y="120.51" width="15.62" height="3.88" fill="#390963"/>
<rect x="487.08" y="124.09" width="15.62" height="3.88" fill="#3b0964"/>
<rect x="487.08" y="127.67" width="15.62" height="3.88" fill="#3e0966"/>
<rect x="487.08" y="131.25" width="15.62" height="3.88" fill="#450a69"/>
<rect x="487.08" y="134.83" width="15.62" height="3.88" fill="#520e6d"/>
<rect x="487.08" y="138.41" width="15.62" height="3.88" fill="#69166e"/>
<rect x="487.08" y="141.99" width="15.62" height="3.88" fill="#88226a"/>
<rect x="487.08" y="145.57" width="15.62" height="3.88" fill="#ae305c"/>
<rect x="487.08" y="149.15" width="15.62" height="3.88" fill="#cf4446"/>
<rect x="487.08" y="152.73" width="15.62" height="3.88" fill="#de5238"/>
<rect x="487.08" y="156.31" width="15.62" height="3.88" fill="#da4e3c"/>
<rect x="487.08" y="159.89" width="15.62" height="3.88" fill="#c43c4e"/>
<rect x="487.08" y="163.47" width="15.62" height="3.88" fill="#a02a63"/>
<rect x="487.08" y="167.05" width="15.62" height="3.88" fill="#7c1d6d"/>
<rect x="487.08" y="170.63" width="15.62" height="3.88" fill="#5f136e"/>
<rect x="487.08" y="174.21" width="15.62" height="3.88" fill="#4d0d6c"/>
<rect x="487.08" y="177.79" width="15.62" height="3.88" fill="#420a68"/>
<rect x="487.08" y="181.37" width="15.62" height="3.88" fill="#3d0965"/>
<rect x="487.08" y="184.95" width="15.62" height="3.88" fill="#3b0964"/>
<rect x="487.08" y="188.53" width="15.62" height="0.77" fill="#390963"/>
<rect x="502.4" y="115.5" width="15.62" height="1.73" fill="#420a68"/>
<rect x="502.4" y="116.93" width="15.62" height="3.88" fill="#420a68"/>
<rect x="502.4" y="120.51" width="15.62" height="3.88" fill="#420a68"/>
<rect x="502.4" y="124.09" width="15.62" height="3.88" fill="#440a68"/>
<rect x="502.4" y="127.67" width="15.62" height="3.88" fill="#470b6a"/>
<rect x="502.4" y="131.25" width="15.62" height="3.88" fill="#4d0d6c"/>
<rect x="502.4" y="134.83" width="15.62" height="3.88" fill="#5a116e"/>
<rect x="502.4" y="138.41" width="15.62" height="3.88" fill="#71196e"/>
<rect x="502.4" y="141.99" width="15.62" height="3.88" fill="#8f2469"/>
<rect x="502.4" y="145.57" width="15.62" height="3.88" fill="#b43359"/>
<rect x="502.4" y="149.15" width="15.62" height="3.88" fill="#d34743"/>
<rect x="502.4" y="152.73" width="15.62" height="3.88" fill="#e15635"/>
<rect x="502.4" y="156.31" width="15.62" height="3.88" fill="#de5238"/>
<rect x="502.4" y="159.89" width="15.62" height="3.88" fill="#c83f4b"/>
<rect x="502.4" y="163.47" width="15.62" height="3.88" fill="#a62d60"/>
<rect x="502.4" y="167.05" width="15.62" height="3.88" fill="#82206c"/>
<rect x="502.4" y="170.63" width="15.62" height="3.88" fill="#67166e"/>
<rect x="502.4" y="174.21" width="15.62" height="3.88" fill="#550f6d"/>
<rect x="502.4" y="177.79" width="15.62" height="3.88" fill="#4a0c6b"/>
<rect x="502.4" y="181.37" width="15.62" height="3.88" fill="#450a69"/>
<rect x="502.4" y="184.95" width="15.62" height="3.88" fill="#440a68"/>
<rect x="502.4" y="188.53" width="15.62" height="0.77" fill="#420a68"/>
<rect x="517.73" y="115.5" width="15.62" height="1.73" fill="#4c0c6b"/>
<rect x="517.73" y="116.93" width="15.62" height="3.88" fill="#4d0d6c"/>
<rect x="517.73" y="120.51" width="15.62" height="3.88" fill="#4d0d6c"/>
<rect x="517.73" y="124.09" width="15.62" height="3.88" fill="#510e6c"/>
<rect x="517.73" y="127.67" width="15.62" height="3.88" fill="#540f6d"/>
<rect x="517.73" y="131.25" width="15.62" height="3.88" fill="#5d126e"/>
<rect x="517.73" y="134.83" width="15.62" height="3.88" fill="#6f196e"/>
<rect x="517.73" y="138.41" width="15.62" height="3.88" fill="#8d2369"/>
<rect x="517.73" y="141.99" width="15.62" height="3.88" fill="#b93556"/>
<rect x="517.73" y="145.57" width="15.62" height="3.88" fill="#e35933"/>
<rect x="517.73" y="149.15" width="15.62" height="3.88" fill="#f8890c"/>
<rect x="517.73" y="152.73" width="15.62" height="3.88" fill="#fca80d"/>
<rect x="517.73" y="156.31" width="15.62" height="3.88" fill="#fca108"/>
<rect x="517.73" y="159.89" width="15.62" height="3.88" fill="#f37819"/>
<rect x="517.73" y="163.47" width="15.62" height="3.88" fill="#d44842"/>
<rect x="517.73" y="167.05" width="15.62" height="3.88" fill="#a62d60"/>
<rect x="517.73" y="170.63" width="15.62" height="3.88" fill="#801f6c"/>
<rect x="517.73" y="174.21" width="15.62" height="3.88" fill="#67166e"/>
<rect x="517.73" y="177.79" width="15.62" height="3.88" fill="#59106e"/>
<rect x="517.73" y="181.37" width="15.62" height="3.88" fill="#520e6d"/>
<rect x="517.73" y="184.95" width="15.62" height="3.88" fill="#4f0d6c"/>
<rect x="517.73" y="188.53" width="15.62" height="0.77" fill="#4d0d6c"/>
<rect x="533.05" y="115.5" width="15.62" height="1.73" fill="#4d0d6c"/>
<rect x="533.05" y="116.93" width="15.62" height="3.88" fill="#4d0d6c"/>
<rect x="533.05" y="120.51" width="15.62" height="3.88" fill="#4f0d6c"/>
<rect x="533.05" y="124.09" width="15.62" height="3.88" fill="#510e6c"/>
<rect x="533.05" y="127.67" width="15.62" height="3.88" fill="#550f6d"/>
<rect x="533.05" y="131.25" width="15.62" height="3.88" fill="#61136e"/>
<rect x="533.05" y="134.83" width="15.62" height="3.88" fill="#751b6e"/>
<rect x="533.05" y="138.41" width="15.62" height="3.88" fill="#9a2865"/>
<rect x="533.05" y="141.99" width="15.62" height="3.88" fill="#cb4149"/>
<rect x="533.05" y="145.57" width="15.62" height="3.88" fill="#f3761b"/>
<rect x="533.05" y="149.15" width="15.62" height="3.88" fill="#fbb81d"/>
<rect x="533.05" y="152.73" width="15.62" height="3.88" fill="#f4e156"/>
<rect x="533.05" y="156.31" width="15.62" height="3.88" fill="#f6d746"/>
<rect x="533.05" y="159.89" width="15.62" height="3.88" fill="#fca108"/>
<rect x="533.05" y="163.47" width="15.62" height="3.88" fill="#e75e2e"/>
<rect x="533.05" y="167.05" width="15.62" height="3.88" fill="#b93556"/>
<rect x="533.05" y="170.63" width="15.62" height="3.88" fill="#8a226a"/>
<rect x="533.05" y="174.21" width="15.62" height="3.88" fill="#6d186e"/>
<rect x="533.05" y="177.79" width="15.62" height="3.88" fill="#5c126e"/>
<rect x="533.05" y="181.37" width="15.62" height="3.88" fill="#540f6d"/>
<rect x="533.05" y="184.95" width="15.62" height="3.88" fill="#510e6c"/>
<rect x="533.05" y="188.53" width="15.62" height="0.77" fill="#4f0d6c"/>
<rect x="548.37" y="115.5" width="15.62" height="1.73" fill="#440a68"/>
<rect x="548.37" y="116.93" width="15.62" height="3.88" fill="#450a69"/>
<rect x="548.37" y="120.51" width="15.62" height="3.88" fill="#450a69"/>
<rect x="548.37" y="124.09" width="15.62" height="3.88" fill="#470b6a"/>
<rect x="548.37" y="127.67" width="15.62" height="3.88" fill="#4c0c6b"/>
<rect x="548.37" y="131.25" width="15.62" height="3.88" fill="#550f6d"/>
<rect x="548.37" y="134.83" width="15.62" height="3.88" fill="#67166e"/>
<rect x="548.37" y="138.41" width="15.62" height="3.88" fill="#85216b"/>
<rect x="548.37" y="141.99" width="15.62" height="3.88" fill="#b0315b"/>
<rect x="548.37" y="145.57" width="15.62" height="3.88" fill="#dd513a"/>
<rect x="548.37" y="149.15" width="15.62" height="3.88" fill="#f68013"/>
<rect x="548.37" y="152.73" width="15.62" height="3.88" fill="#fc9f07"/>
<rect x="548.37" y="156.31" width="15.62" height="3.88" fill="#fb9706"/>
<rect x="548.37" y="159.89" width="15.62" height="3.88" fill="#f06f20"/>
<rect x="548.37" y="163.47" width="15.62" height="3.88" fill="#ce4347"/>
<rect x="548.37" y="167.05" width="15.62" height="3.88" fill="#9f2a63"/>
<rect x="548.37" y="170.63" width="15.62" height="3.88" fill="#781c6d"/>
<rect x="548.37" y="174.21" width="15.62" height="3.88" fill="#5f136e"/>
<rect x="548.37" y="177.79" width="15.62" height="3.88" fill="#510e6c"/>
<rect x="548.37" y="181.37" width="15.62" height="3.88" fill="#4a0c6b"/>
<rect x="548.37" y="184.95" width="15.62" height="3.88" fill="#470b6a"/>
<rect x="548.37" y="188.53" width="15.62" height="0.77" fill="#450a69"/>
<rect x="563.7" y="115.5" width="15.62" height="1.73" fill="#3e0966"/>
<rect x="563.7" y="116.93" width="15.62" height="3.88" fill="#400a67"/>
<rect x="563.7" y="120.51" width="15.62" height="3.88" fill="#400a67"/>
<rect x="563.7" y="124.09" width="15.62" height="3.88" fill="#420a68"/>
<rect x="563.7" y="127.67" width="15.62" height="3.88" fill="#450a69"/>
<rect x="563.7" y="131.25" width="15.62" height="3.88" fill="#4c0c6b"/>
<rect x="563.7" y="134.83" width="15.62" height="3.88" fill="#59106e"/>
<rect x="563.7" y="138.41" width="15.62" height="3.88" fill="#6f196e"/>
<rect x="563.7" y="141.99" width="15.62" height="3.88" fill="#8f2469"/>
<rect x="563.7" y="145.57" width="15.62" height="3.88" fill="#b43359"/>
<rect x="563.7" y="149.15" width="15.62" height="3.88" fill="#d34743"/>
<rect x="563.7" y="152.73" width="15.62" height="3.88" fill="#e25734"/>
<rect x="563.7" y="156.31" width="15.62" height="3.88" fill="#df5337"/>
<rect x="563.7" y="159.89" width="15.62" height="3.88" fill="#ca404a"/>
<rect x="563.7" y="163.47" width="15.62" height="3.88" fill="#a62d60"/>
<rect x="563.7" y="167.05" width="15.62" height="3.88" fill="#82206c"/>
<rect x="563.7" y="170.63" width="15.62" height="3.88" fill="#65156e"/>
<rect x="563.7" y="174.21" width="15.62" height="3.88" fill="#520e6d"/>
<rect x="563.7" y="177.79" width="15.62" height="3.88" fill="#490b6a"/>
<rect x="563.7" y="181.37" width="15.62" height="3.88" fill="#440a68"/>
<rect x="563.7" y="184.95" width="15.62" height="3.88" fill="#400a67"/>
<rect x="563.7" y="188.53" width="15.62" height="0.77" fill="#400a67"/>
<rect x="579.02" y="115.5" width="15.62" height="1.73" fill="#3e0966"/>
<rect x="579.02" y="116.93" width="15.62" height="3.88" fill="#3e0966"/>
<rect x="579.02" y="120.51" width="15.62" height="3.88" fill="#400a67"/>
<rect x="579.02" y="124.09" width="15.62" height="3.88" fill="#400a67"/>
<rect x="579.02" y="127.67" width="15.62" height="3.88" fill="#440a68"/>
<rect x="579.02" y="131.25" width="15.62" height="3.88" fill="#490b6a"/>
<rect x="579.02" y="134.83" width="15.62" height="3.88" fill="#540f6d"/>
<rect x="579.02" y="138.41" width="15.62" height="3.88" fill="#65156e"/>
<rect x="579.02" y="141.99" width="15.62" height="3.88" fill="#7f1e6c"/>
<rect x="579.02" y="145.57" width="15.62" height="3.88" fill="#9d2964"/>
<rect x="579.02" y="149.15" width="15.62" height="3.88" fill="#b93556"/>
<rect x="579.02" y="152.73" width="15.62" height="3.88" fill="#c73e4c"/>
<rect x="579.02" y="156.31" width="15.62" height="3.88" fill="#c33b4f"/>
<rect x="579.02" y="159.89" width="15.62" height="3.88" fill="#b0315b"/>
<rect x="579.02" y="163.47" width="15.62" height="3.88" fill="#922568"/>
<rect x="579.02" y="167.05" width="15.62" height="3.88" fill="#741a6e"/>
<rect x="579.02" y="170.63" width="15.62" height="3.88" fill="#5d126e"/>
<rect x="579.02" y="174.21" width="15.62" height="3.88" fill="#4f0d6c"/>
<rect x="579.02" y="177.79" width="15.62" height="3.88" fill="#470b6a"/>
<rect x="579.02" y="181.37" width="15.62" height="3.88" fill="#420a68"/>
<rect x="579.02" y="184.95" width="15.62" height="3.88" fill="#400a67"/>
<rect x="579.02" y="188.53" width="15.62" height="0.77" fill="#3e0966"/>
<rect x="594.34" y="115.5" width="15.62" height="1.73" fill="#3e0966"/>
<rect x="594.34" y="116.93" width="15.62" height="3.88" fill="#3e0966"/>
<rect x="594.34" y="120.51" width="15.62" height="3.88" fill="#3e0966"/>
<rect x="594.34" y="124.09" width="15.62" height="3.88" fill="#400a67"/>
<rect x="594.34" y="127.67" width="15.62" height="3.88" fill="#420a68"/>
<rect x="594.34" y="131.25" width="15.62" height="3.88" fill="#470b6a"/>
<rect x="594.34" y="134.83" width="15.62" height="3.88" fill="#4f0d6c"/>
<rect x="594.34" y="138.41" width="15.62" height="3.88" fill="#5c126e"/>
<rect x="594.34" y="141.99" width="15.62" height="3.88" fill="#71196e"/>
<rect x="594.34" y="145.57" width="15.62" height="3.88" fill="#88226a"/>
<rect x="594.34" y="149.15" width="15.62" height="3.88" fill="#9f2a63"/>
<rect x="594.34" y="152.73" width="15.62" height="3.88" fill="#a92e5e"/>
<rect x="594.34" y="156.31" width="15.62" height="3.88" fill="#a82e5f"/>
<rect x="594.34" y="159.89" width="15.62" height="3.88" fill="#972766"/>
<rect x="594.34" y="163.47" width="15.62" height="3.88" fill="#7f1e6c"/>
<rect x="594.34" y="167.05" width="15.62" height="3.88" fill="#69166e"/>
<rect x="594.34" y="170.63" width="15.62" height="3.88" fill="#57106e"/>
<rect x="594.34" y="174.21" width="15.62" height="3.88" fill="#4a0c6b"/>
<rect x="594.34" y="177.79" width="15.62" height="3.88" fill="#440a68"/>
<rect x="594.34" y="181.37" width="15.62" height="3.88" fill="#400a67"/>
<rect x="594.34" y="184.95" width="15.62" height="3.88" fill="#400a67"/>
<rect x="594.34" y="188.53" width="15.62" height="0.77" fill="#3e0966"/>
<rect x="609.67" y="115.5" width="15.62" height="1.73" fill="#450a69"/>
<rect x="609.67" y="116.93" width="15.62" height="3.88" fill="#450a69"/>
<rect x="609.67" y="120.51" width="15.62" height="3.88" fill="#450a69"/>
<rect x="609.67" y="124.09" width="15.62" height="3.88" fill="#450a69"/>
<rect x="609.67" y="127.67" width="15.62" height="3.88" fill="#470b6a"/>
<rect x="609.67" y="131.25" width="15.62" height="3.88" fill="#4a0c6b"/>
<rect x="609.67" y="134.83" width="15.62" height="3.88" fill="#510e6c"/>
<rect x="609.67" y="138.41" width="15.62" height="3.88" fill="#5c126e"/>
<rect x="609.67" y="141.99" width="15.62" height="3.88" fill="#6c186e"/>
<rect x="609.67" y="145.57" width="15.62" height="3.88" fill="#7f1e6c"/>
<rect x="609.67" y="149.15" width="15.62" height="3.88" fill="#902568"/>
<rect x="609.67" y="152.73" width="15.62" height="3.88" fill="#9a2865"/>
<rect x="609.67" y="156.31" width="15.62" height="3.88" fill="#972766"/>
<rect x="609.67" y="159.89" width="15.62" height="3.88" fill="#8a226a"/>
<rect x="609.67" y="163.47" width="15.62" height="3.88" fill="#771c6d"/>
<rect x="609.67" y="167.05" width="15.62" height="3.88" fill="#65156e"/>
<rect x="609.67" y="170.63" width="15.62" height="3.88" fill="#57106e"/>
<rect x="609.67" y="174.21" width="15.62" height="3.88" fill="#4d0d6c"/>
<rect x="609.67" y="177.79" width="15.62" height="3.88" fill="#490b6a"/>
<rect x="609.67" y="181.37" width="15.62" height="3.88" fill="#470b6a"/>
<rect x="609.67" y="184.95" width="15.62" height="3.88" fill="#450a69"/>
<rect x="609.67" y="188.53" width="15.62" height="0.77" fill="#450a69"/>
<rect x="624.99" y="115.5" width="15.62" height="1.73" fill="#57106e"/>
<rect x="624.99" y="116.93" width="15.62" height="3.88" fill="#57106e"/>
<rect x="624.99" y="120.51" width="15.62" height="3.88" fill="#57106e"/>
<rect x="624.99" y="124.09" width="15.62" height="3.88" fill="#59106e"/>
<rect x="624.99" y="127.67" width="15.62" height="3.88" fill="#59106e"/>
<rect x="624.99" y="131.25" width="15.62" height="3.88" fill="#5c126e"/>
<rect x="624.99" y="134.83" width="15.62" height="3.88" fill="#62146e"/>
<rect x="624.99" y="138.41" width="15.62" height="3.88" fill="#6a176e"/>
<rect x="624.99" y="141.99" width="15.62" height="3.88" fill="#781c6d"/>
<rect x="624.99" y="145.57" width="15.62" height="3.88" fill="#88226a"/>
<rect x="624.99" y="149.15" width="15.62" height="3.88" fill="#972766"/>
<rect x="624.99" y="152.73" width="15.62" height="3.88" fill="#9f2a63"/>
<rect x="624.99" y="156.31" width="15.62" height="3.88" fill="#9d2964"/>
<rect x="624.99" y="159.89" width="15.62" height="3.88" fill="#922568"/>
<rect x="624.99" y="163.47" width="15.62" height="3.88" fill="#82206c"/>
<rect x="624.99" y="167.05" width="15.62" height="3.88" fill="#721a6e"/>
<rect x="624.99" y="170.63" width="15.62" height="3.88" fill="#67166e"/>
<rect x="624.99" y="174.21" width="15.62" height="3.88" fill="#5f136e"/>
<rect x="624.99" y="177.79" width="15.62" height="3.88" fill="#5a116e"/>
<rect x="624.99" y="181.37" width="15.62" height="3.88" fill="#59106e"/>
<rect x="624.99" y="184.95" width="15.62" height="3.88" fill="#57106e"/>
<rect x="624.99" y="188.53" width="15.62" height="0.77" fill="#57106e"/>
<rect x="640.31" y="115.5" width="15.62" height="1.73" fill="#741a6e"/>
<rect x="640.31" y="116.93" width="15.62" height="3.88" fill="#741a6e"/>
<rect x="640.31" y="120.51" width="15.62" height="3.88" fill="#741a6e"/>
<rect x="640.31" y="124.09" width="15.62" height="3.88" fill="#741a6e"/>
<rect x="640.31" y="127.67" width="15.62" height="3.88" fill="#751b6e"/>
<rect x="640.31" y="131.25" width="15.62" height="3.88" fill="#781c6d"/>
<rect x="640.31" y="134.83" width="15.62" height="3.88" fill="#7d1e6d"/>
<rect x="640.31" y="138.41" width="15.62" height="3.88" fill="#85216b"/>
<rect x="640.31" y="141.99" width="15.62" height="3.88" fill="#922568"/>
<rect x="640.31" y="145.57" width="15.62" height="3.88" fill="#a02a63"/>
<rect x="640.31" y="149.15" width="15.62" height="3.88" fill="#ae305c"/>
<rect x="640.31" y="152.73" width="15.62" height="3.88" fill="#b63458"/>
<rect x="640.31" y="156.31" width="15.62" height="3.88" fill="#b43359"/>
<rect x="640.31" y="159.89" width="15.62" height="3.88" fill="#a92e5e"/>
<rect x="640.31" y="163.47" width="15.62" height="3.88" fill="#9b2964"/>
<rect x="640.31" y="167.05" width="15.62" height="3.88" fill="#8d2369"/>
<rect x="640.31" y="170.63" width="15.62" height="3.88" fill="#82206c"/>
<rect x="640.31" y="174.21" width="15.62" height="3.88" fill="#7c1d6d"/>
<rect x="640.31" y="177.79" width="15.62" height="3.88" fill="#771c6d"/>
<rect x="640.31" y="181.37" width="15.62" height="3.88" fill="#751b6e"/>
<rect x="640.31" y="184.95" width="15.62" height="3.88" fill="#741a6e"/>
<rect x="640.31" y="188.53" width="15.62" height="0.77" fill="#741a6e"/>
<rect x="655.64" y="115.5" width="9.16" height="1.73" fill="#a52c60"/>
<rect x="655.64" y="116.93" width="9.16" height="3.88" fill="#a52c60"/>
<rect x="655.64" y="120.51" width="9.16" height="3.88" fill="#a52c60"/>
<rect x="655.64" y="124.09" width="9.16" height="3.88" fill="#a52c60"/>
<rect x="655.64" y="127.67" width="9.16" height="3.88" fill="#a62d60"/>
<rect x="655.64" y="131.25" width="9.16" height="3.88" fill="#a82e5f"/>
<rect x="655.64" y="134.83" width="9.16" height="3.88" fill="#ad305d"/>
<rect x="655.64" y="138.41" width="9.16" height="3.88" fill="#b43359"/>
<rect x="655.64" y="141.99" width="9.16" height="3.88" fill="#bf3952"/>
<rect x="655.64" y="145.57" width="9.16" height="3.88" fill="#cb4149"/>
<rect x="655.64" y="149.15" width="9.16" height="3.88" fill="#d44842"/>
<rect x="655.64" y="152.73" width="9.16" height="3.88" fill="#da4e3c"/>
<rect x="655.64" y="156.31" width="9.16" height="3.88" fill="#d94d3d"/>
<rect x="655.64" y="159.89" width="9.16" height="3.88" fill="#d24644"/>
<rect x="655.64" y="163.47" width="9.16" height="3.88" fill="#c63d4d"/>
<rect x="655.64" y="167.05" width="9.16" height="3.88" fill="#ba3655"/>
<rect x="655.64" y="170.63" width="9.16" height="3.88" fill="#b1325a"/>
<rect x="655.64" y="174.21" width="9.16" height="3.88" fill="#ab2f5e"/>
<rect x="655.64" y="177.79" width="9.16" height="3.88" fill="#a82e5f"/>
<rect x="655.64" y="181.37" width="9.16" height="3.88" fill="#a52c60"/>
<rect x="655.64" y="184.95" width="9.16" height="3.88" fill="#a52c60"/>
<rect x="655.64" y="188.53" width="9.16" height="0.77" fill="#a52c60"/>
<rect x="404" y="189" width="6.76" height="1.73" fill="#030210"/>
<rect x="404" y="190.43" width="6.76" height="3.88" fill="#030210"/>
<rect x="404" y="194.01" width="6.76" height="3.88" fill="#030210"/>
<rect x="404" y="197.59" width="6.76" height="3.88" fill="#030210"/>
<rect x="404" y="201.17" width="6.76" height="3.88" fill="#030210"/>
<rect x="404" y="204.75" width="6.76" height="3.88" fill="#040312"/>
<rect x="404" y="208.33" width="6.76" height="3.88" fill="#040312"/>
<rect x="404" y="211.91" width="6.76" height="3.88" fill="#040312"/>
<rect x="404" y="215.49" width="6.76" height="3.88" fill="#040314"/>
<rect x="404" y="219.07" width="6.76" height="3.88" fill="#050417"/>
<rect x="404" y="222.65" width="6.76" height="3.88" fill="#060419"/>
<rect x="404" y="226.23" width="6.76" height="3.88" fill="#060419"/>
<rect x="404" y="229.81" width="6.76" height="3.88" fill="#060419"/>
<rect x="404" y="233.39" width="6.76" height="3.88" fill="#050417"/>
<rect x="404" y="236.97" width="6.76" height="3.88" fill="#040314"/>
<rect x="404" y="240.55" width="6.76" height="3.88" fill="#040312"/>
<rect x="404" y="244.13" width="6.76" height="3.88" fill="#040312"/>
<rect x="404" y="247.71" width="6.76" height="3.88" fill="#040312"/>
<rect x="404" y="251.29" width="6.76" height="3.88" fill="#030210"/>
<rect x="404" y="254.87" width="6.76" height="3.88" fill="#030210"/>
<rect x="404" y="258.45" width="6.76" height="3.88" fill="#030210"/>
<rect x="404" y="262.03" width="6.76" height="1.27" fill="#030210"/>
<rect x="410.46" y="189" width="15.62" height="1.73" fill="#040314"/>
<rect x="410.46" y="190.43" width="15.62" height="3.88" fill="#040314"/>
<rect x="410.46" y="194.01" width="15.62" height="3.88" fill="#040314"/>
<rect x="410.46" y="197.59" width="15.62" height="3.88" fill="#040314"/>
<rect x="410.46" y="201.17" width="15.62" height="3.88" fill="#040314"/>
<rect x="410.46" y="204.75" width="15.62" height="3.88" fill="#040314"/>
<rect x="410.46" y="208.33" width="15.62" height="3.88" fill="#050417"/>
<rect x="410.46" y="211.91" width="15.62" height="3.88" fill="#060419"/>
<rect x="410.46" y="215.49" width="15.62" height="3.88" fill="#08051d"/>
<rect x="410.46" y="219.07" width="15.62" height="3.88" fill="#0a0722"/>
<rect x="410.46" y="222.65" width="15.62" height="3.88" fill="#0b0724"/>
<rect x="410.46" y="226.23" width="15.62" height="3.88" fill="#0c0826"/>
<rect x="410.46" y="229.81" width="15.62" height="3.88" fill="#0b0724"/>
<rect x="410.46" y="233.39" width="15.62" height="3.88" fill="#09061f"/>
<rect x="410.46" y="236.97" width="15.62" height="3.88" fill="#07051b"/>
<rect x="410.46" y="240.55" width="15.62" height="3.88" fill="#060419"/>
<rect x="410.46" y="244.13" width="15.62" height="3.88" fill="#050417"/>
<rect x="410.46" y="247.71" width="15.62" height="3.88" fill="#040314"/>
<rect x="410.46" y="251.29" width="15.62" height="3.88" fill="#040314"/>
<rect x="410.46" y="254.87" width="15.62" height="3.88" fill="#040314"/>
<rect x="410.46" y="258.45" width="15.62" height="3.88" fill="#040314"/>
<rect x="410.46" y="262.03" width="15.62" height="1.27" fill="#040314"/>
<rect x="425.79" y="189" width="15.62" height="1.73" fill="#060419"/>
<rect x="425.79" y="190.43" width="15.62" height="3.88" fill="#060419"/>
<rect x="425.79" y="194.01" width="15.62" height="3.88" fill="#060419"/>
<rect x="425.79" y="197.59" width="15.62" height="3.88" fill="#060419"/>
<rect x="425.79" y="201.17" width="15.62" height="3.88" fill="#07051b"/>
<rect x="425.79" y="204.75" width="15.62" height="3.88" fill="#07051b"/>
<rect x="425.79" y="208.33" width="15.62" height="3.88" fill="#08051d"/>
<rect x="425.79" y="211.91" width="15.62" height="3.88" fill="#0a0722"/>
<rect x="425.79" y="215.49" width="15.62" height="3.88" fill="#0c0826"/>
<rect x="425.79" y="219.07" width="15.62" height="3.88" fill="#10092d"/>
<rect x="425.79" y="222.65" width="15.62" height="3.88" fill="#120a32"/>
<rect x="425.79" y="226.23" width="15.62" height="3.88" fill="#140b34"/>
<rect x="425.79" y="229.81" width="15.62" height="3.88" fill="#120a32"/>
<rect x="425.79" y="233.39" width="15.62" height="3.88" fill="#10092d"/>
<rect x="425.79" y="236.97" width="15.62" height="3.88" fill="#0c0826"/>
<rect x="425.79" y="240.55" width="15.62" height="3.88" fill="#0a0722"/>
<rect x="425.79" y="244.13" width="15.62" height="3.88" fill="#08051d"/>
<rect x="425.79" y="247.71" width="15.62" height="3.88" fill="#07051b"/>
<rect x="425.79" y="251.29" width="15.62" height="3.88" fill="#07051b"/>
<rect x="425.79" y="254.87" width="15.62" height="3.88" fill="#060419"/>
<rect x="425.79" y="258.45" width="15.62" height="3.88" fill="#060419"/>
<rect x="425.79" y="262.03" width="15.62" height="1.27" fill="#060419"/>
<rect x="441.11" y="189" width="15.62" height="1.73" fill="#0e092b"/>
<rect x="441.11" y="190.43" width="15.62" height="3.88" fill="#0e092b"/>
<rect x="441.11" y="194.01" width="15.62" height="3.88" fill="#0e092b"/>
<rect x="441.11" y="197.59" width="15.62" height="3.88" fill="#0e092b"/>
<rect x="441.11" y="201.17" width="15.62" height="3.88" fill="#10092d"/>
<rect x="441.11" y="204.75" width="15.62" height="3.88" fill="#10092d"/>
<rect x="441.11" y="208.33" width="15.62" height="3.88" fill="#120a32"/>
<rect x="441.11" y="211.91" width="15.62" height="3.88" fill="#160b39"/>
<rect x="441.11" y="215.49" width="15.62" height="3.88" fill="#1b0c41"/>
<rect x="441.11" y="219.07" width="15.62" height="3.88" fill="#210c4a"/>
<rect x="441.11" y="222.65" width="15.62" height="3.88" fill="#280b53"/>
<rect x="441.11" y="226.23" width="15.62" height="3.88" fill="#290b55"/>
<rect x="441.11" y="229.81" width="15.62" height="3.88" fill="#280b53"/>
<rect x="441.11" y="233.39" width="15.62" height="3.88" fill="#210c4a"/>
<rect x="441.11" y="236.97" width="15.62" height="3.88" fill="#1b0c41"/>
<rect x="441.11" y="240.55" width="15.62" height="3.88" fill="#150b37"/>
<rect x="441.11" y="244.13" width="15.62" height="3.88" fill="#120a32"/>
<rect x="441.11" y="247.71" width="15.62" height="3.88" fill="#10092d"/>
<rect x="441.11" y="251.29" width="15.62" height="3.88" fill="#0e092b"/>
<rect x="441.11" y="254.87" width="15.62" height="3.88" fill="#0e092b"/>
<rect x="441.11" y="258.45" width="15.62" height="3.88" fill="#0e092b"/>
<rect x="441.11" y="262.03" width="15.62" height="1.27" fill="#0e092b"/>
<rect x="456.43" y="189" width="15.62" height="1.73" fill="#1b0c41"/>
<rect x="456.43" y="190.43" width="15.62" height="3.88" fill="#1b0c41"/>
<rect x="456.43" y="194.01" width="15.62" height="3.88" fill="#1b0c41"/>
<rect x="456.43" y="197.59" width="15.62" height="3.88" fill="#1c0c43"/>
<rect x="456.43" y="201.17" width="15.62" height="3.88" fill="#1c0c43"/>
<rect x="456.43" y="204.75" width="15.62" height="3.88" fill="#1f0c48"/>
<rect x="456.43" y="208.33" width="15.62" height="3.88" fill="#240c4f"/>
<rect x="456.43" y="211.91" width="15.62" height="3.88" fill="#2d0b59"/>
<rect x="456.43" y="215.49" width="15.62" height="3.88" fill="#390963"/>
<rect x="456.43" y="219.07" width="15.62" height="3.88" fill="#470b6a"/>
<rect x="456.43" y="222.65" width="15.62" height="3.88" fill="#510e6c"/>
<rect x="456.43" y="226.23" width="15.62" height="3.88" fill="#540f6d"/>
<rect x="456.43" y="229.81" width="15.62" height="3.88" fill="#4f0d6c"/>
<rect x="456.43" y="233.39" width="15.62" height="3.88" fill="#450a69"/>
<rect x="456.43" y="236.97" width="15.62" height="3.88" fill="#380962"/>
<rect x="456.43" y="240.55" width="15.62" height="3.88" fill="#2b0b57"/>
<rect x="456.43" y="244.13" width="15.62" height="3.88" fill="#230c4c"/>
<rect x="456.43" y="247.71" width="15.62" height="3.88" fill="#1f0c48"/>
<rect x="456.43" y="251.29" width="15.62" height="3.88" fill="#1c0c43"/>
<rect x="456.43" y="254.87" width="15.62" height="3.88" fill="#1c0c43"/>
<rect x="456.43" y="258.45" width="15.62" height="3.88" fill="#1b0c41"/>
<rect x="456.43" y="262.03" width="15.62" height="1.27" fill="#1b0c41"/>
<rect x="471.76" y="189" width="15.62" height="1.73" fill="#2b0b57"/>
<rect x="471.76" y="190.43" width="15.62" height="3.88" fill="#2d0b59"/>
<rect x="471.76" y="194.01" width="15.62" height="3.88" fill="#2d0b59"/>
<rect x="471.76" y="197.59" width="15.62" height="3.88" fill="#2d0b59"/>
<rect x="471.76" y="201.17" width="15.62" height="3.88" fill="#2f0a5b"/>
<rect x="471.76" y="204.75" width="15.62" height="3.88" fill="#320a5e"/>
<rect x="471.76" y="208.33" width="15.62" height="3.88" fill="#3b0964"/>
<rect x="471.76" y="211.91" width="15.62" height="3.88" fill="#470b6a"/>
<rect x="471.76" y="215.49" width="15.62" height="3.88" fill="#550f6d"/>
<rect x="471.76" y="219.07" width="15.62" height="3.88" fill="#69166e"/>
<rect x="471.76" y="222.65" width="15.62" height="3.88" fill="#771c6d"/>
<rect x="471.76" y="226.23" width="15.62" height="3.88" fill="#7c1d6d"/>
<rect x="471.76" y="229.81" width="15.62" height="3.88" fill="#751b6e"/>
<rect x="471.76" y="233.39" width="15.62" height="3.88" fill="#65156e"/>
<rect x="471.76" y="236.97" width="15.62" height="3.88" fill="#540f6d"/>
<rect x="471.76" y="240.55" width="15.62" height="3.88" fill="#450a69"/>
<rect x="471.76" y="244.13" width="15.62" height="3.88" fill="#390963"/>
<rect x="471.76" y="247.71" width="15.62" height="3.88" fill="#320a5e"/>
<rect x="471.76" y="251.29" width="15.62" height="3.88" fill="#2f0a5b"/>
<rect x="471.76" y="254.87" width="15.62" height="3.88" fill="#2d0b59"/>
<rect x="471.76" y="258.45" width="15.62" height="3.88" fill="#2d0b59"/>
<rect x="471.76" y="262.03" width="15.62" height="1.27" fill="#2d0b59"/>
<rect x="487.08" y="189" width="15.62" height="1.73" fill="#380962"/>
<rect x="487.08" y="190.43" width="15.62" height="3.88" fill="#380962"/>
<rect x="487.08" y="194.01" width="15.62" height="3.88" fill="#380962"/>
<rect x="487.08" y="197.59" width="15.62" height="3.88" fill="#390963"/>
<rect x="487.08" y="201.17" width="15.62" height="3.88" fill="#390963"/>
<rect x="487.08" y="204.75" width="15.62" height="3.88" fill="#3e0966"/>
<rect x="487.08" y="208.33" width="15.62" height="3.88" fill="#450a69"/>
<rect x="487.08" y="211.91" width="15.62" height="3.88" fill="#4f0d6c"/>
<rect x="487.08" y="215.49" width="15.62" height="3.88" fill="#5f136e"/>
<rect x="487.08" y="219.07" width="15.62" height="3.88" fill="#6f196e"/>
<rect x="487.08" y="222.65" width="15.62" height="3.88" fill="#7d1e6d"/>
<rect x="487.08" y="226.23" width="15.62" height="3.88" fill="#82206c"/>
<rect x="487.08" y="229.81" width="15.62" height="3.88" fill="#7c1d6d"/>
<rect x="487.08" y="233.39" width="15.62" height="3.88" fill="#6d186e"/>
<rect x="487.08" y="236.97" width="15.62" height="3.88" fill="#5c126e"/>
<rect x="487.08" y="240.55" width="15.62" height="3.88" fill="#4d0d6c"/>
<rect x="487.08" y="244.13" width="15.62" height="3.88" fill="#440a68"/>
<rect x="487.08" y="247.71" width="15.62" height="3.88" fill="#3d0965"/>
<rect x="487.08" y="251.29" width="15.62" height="3.88" fill="#390963"/>
<rect x="487.08" y="254.87" width="15.62" height="3.88" fill="#380962"/>
<rect x="487.08" y="258.45" width="15.62" height="3.88" fill="#380962"/>
<rect x="487.08" y="262.03" width="15.62" height="1.27" fill="#380962"/>
<rect x="502.4" y="189" width="15.62" height="1.73" fill="#400a67"/>
<rect x="502.4" y="190.43" width="15.62" height="3.88" fill="#400a67"/>
<rect x="502.4" y="194.01" width="15.62" height="3.88" fill="#420a68"/>
<rect x="502.4" y="197.59" width="15.62" height="3.88" fill="#420a68"/>
<rect x="502.4" y="201.17" width="15.62" height="3.88" fill="#450a69"/>
<rect x="502.4" y="204.75" width="15.62" height="3.88" fill="#4a0c6b"/>
<rect x="502.4" y="208.33" width="15.62" height="3.88" fill="#540f6d"/>
<rect x="502.4" y="211.91" width="15.62" height="3.88" fill="#64156e"/>
<rect x="502.4" y="215.49" width="15.62" height="3.88" fill="#7c1d6d"/>
<rect x="502.4" y="219.07" width="15.62" height="3.88" fill="#952667"/>
<rect x="502.4" y="222.65" width="15.62" height="3.88" fill="#a92e5e"/>
<rect x="502.4" y="226.23" width="15.62" height="3.88" fill="#b1325a"/>
<rect x="502.4" y="229.81" width="15.62" height="3.88" fill="#a82e5f"/>
<rect x="502.4" y="233.39" width="15.62" height="3.88" fill="#922568"/>
<rect x="502.4" y="236.97" width="15.62" height="3.88" fill="#781c6d"/>
<rect x="502.4" y="240.55" width="15.62" height="3.88" fill="#62146e"/>
<rect x="502.4" y="244.13" width="15.62" height="3.88" fill="#520e6d"/>
<rect x="502.4" y="247.71" width="15.62" height="3.88" fill="#490b6a"/>
<rect x="502.4" y="251.29" width="15.62" height="3.88" fill="#440a68"/>
<rect x="502.4" y="254.87" width="15.62" height="3.88" fill="#420a68"/>
<rect x="502.4" y="258.45" width="15.62" height="3.88" fill="#420a68"/>
<rect x="502.4" y="262.03" width="15.62" height="1.27" fill="#400a67"/>
<rect x="517.73" y="189" width="15.62" height="1.73" fill="#4c0c6b"/>
<rect x="517.73" y="190.43" width="15.62" height="3.88" fill="#4d0d6c"/>
<rect x="517.73" y="194.01" width="15.62" height="3.88" fill="#4d0d6c"/>
<rect x="517.73" y="197.59" width="15.62" height="3.88" fill="#510e6c"/>
<rect x="517.73" y="201.17" width="15.62" height="3.88" fill="#550f6d"/>
<rect x="517.73" y="204.75" width="15.62" height="3.88" fill="#5f136e"/>
<rect x="517.73" y="208.33" width="15.62" height="3.88" fill="#741a6e"/>
<rect x="517.73" y="211.91" width="15.62" height="3.88" fill="#972766"/>
<rect x="517.73" y="215.49" width="15.62" height="3.88" fill="#c63d4d"/>
<rect x="517.73" y="219.07" width="15.62" height="3.88" fill="#ec6726"/>
<rect x="517.73" y="222.65" width="15.62" height="3.88" fill="#fb9706"/>
<rect x="517.73" y="226.23" width="15.62" height="3.88" fill="#fcaa0f"/>
<rect x="517.73" y="229.81" width="15.62" height="3.88" fill="#fa9207"/>
<rect x="517.73" y="233.39" width="15.62" height="3.88" fill="#e9612b"/>
<rect x="517.73" y="236.97" width="15.62" height="3.88" fill="#bf3952"/>
<rect x="517.73" y="240.55" width="15.62" height="3.88" fill="#922568"/>
<rect x="517.73" y="244.13" width="15.62" height="3.88" fill="#71196e"/>
<rect x="517.73" y="247.71" width="15.62" height="3.88" fill="#5d126e"/>
<rect x="517.73" y="251.29" width="15.62" height="3.88" fill="#540f6d"/>
<rect x="517.73" y="254.87" width="15.62" height="3.88" fill="#510e6c"/>
<rect x="517.73" y="258.45" width="15.62" height="3.88" fill="#4d0d6c"/>
<rect x="517.73" y="262.03" width="15.62" height="1.27" fill="#4d0d6c"/>
<rect x="533.05" y="189" width="15.62" height="1.73" fill="#4d0d6c"/>
<rect x="533.05" y="190.43" width="15.62" height="3.88" fill="#4f0d6c"/>
<rect x="533.05" y="194.01" width="15.62" height="3.88" fill="#4f0d6c"/>
<rect x="533.05" y="197.59" width="15.62" height="3.88" fill="#520e6d"/>
<rect x="533.05" y="201.17" width="15.62" height="3.88" fill="#59106e"/>
<rect x="533.05" y="204.75" width="15.62" height="3.88" fill="#69166e"/>
<rect x="533.05" y="208.33" width="15.62" height="3.88" fill="#84206b"/>
<rect x="533.05" y="211.91" width="15.62" height="3.88" fill="#b3325a"/>
<rect x="533.05" y="215.49" width="15.62" height="3.88" fill="#e8602d"/>
<rect x="533.05" y="219.07" width="15.62" height="3.88" fill="#fcb216"/>
<rect x="533.05" y="222.65" width="15.62" height="3.88" fill="#f5f992"/>
<rect x="533.05" y="226.23" width="15.62" height="3.88" fill="#fcffa4"/>
<rect x="533.05" y="229.81" width="15.62" height="3.88" fill="#f2f482"/>
<rect x="533.05" y="233.39" width="15.62" height="3.88" fill="#fca60c"/>
<rect x="533.05" y="236.97" width="15.62" height="3.88" fill="#e25734"/>
<rect x="533.05" y="240.55" width="15.62" height="3.88" fill="#ad305d"/>
<rect x="533.05" y="244.13" width="15.62" height="3.88" fill="#7f1e6c"/>
<rect x="533.05" y="247.71" width="15.62" height="3.88" fill="#65156e"/>
<rect x="533.05" y="251.29" width="15.62" height="3.88" fill="#59106e"/>
<rect x="533.05" y="254.87" width="15.62" height="3.88" fill="#520e6d"/>
<rect x="533.05" y="258.45" width="15.62" height="3.88" fill="#4f0d6c"/>
<rect x="533.05" y="262.03" width="15.62" height="1.27" fill="#4d0d6c"/>
<rect x="548.37" y="189" width="15.62" height="1.73" fill="#440a68"/>
<rect x="548.37" y="190.43" width="15.62" height="3.88" fill="#450a69"/>
<rect x="548.37" y="194.01" width="15.62" height="3.88" fill="#470b6a"/>
<rect x="548.37" y="197.59" width="15.62" height="3.88" fill="#490b6a"/>
<rect x="548.37" y="201.17" width="15.62" height="3.88" fill="#4d0d6c"/>
<rect x="548.37" y="204.75" width="15.62" height="3.88" fill="#59106e"/>
<rect x="548.37" y="208.33" width="15.62" height="3.88" fill="#6f196e"/>
<rect x="548.37" y="211.91" width="15.62" height="3.88" fill="#932667"/>
<rect x="548.37" y="215.49" width="15.62" height="3.88" fill="#c63d4d"/>
<rect x="548.37" y="219.07" width="15.62" height="3.88" fill="#ee6a24"/>
<rect x="548.37" y="222.65" width="15.62" height="3.88" fill="#fc9f07"/>
<rect x="548.37" y="226.23" width="15.62" height="3.88" fill="#fcb418"/>
<rect x="548.37" y="229.81" width="15.62" height="3.88" fill="#fb9b06"/>
<rect x="548.37" y="233.39" width="15.62" height="3.88" fill="#eb6429"/>
<rect x="548.37" y="236.97" width="15.62" height="3.88" fill="#bf3952"/>
<rect x="548.37" y="240.55" width="15.62" height="3.88" fill="#8f2469"/>
<rect x="548.37" y="244.13" width="15.62" height="3.88" fill="#6c186e"/>
<rect x="548.37" y="247.71" width="15.62" height="3.88" fill="#57106e"/>
<rect x="548.37" y="251.29" width="15.62" height="3.88" fill="#4d0d6c"/>
<rect x="548.37" y="254.87" width="15.62" height="3.88" fill="#490b6a"/>
<rect x="548.37" y="258.45" width="15.62" height="3.88" fill="#450a69"/>
<rect x="548.37" y="262.03" width="15.62" height="1.27" fill="#450a69"/>
<rect x="563.7" y="189" width="15.62" height="1.73" fill="#3e0966"/>
<rect x="563.7" y="190.43" width="15.62" height="3.88" fill="#400a67"/>
<rect x="563.7" y="194.01" width="15.62" height="3.88" fill="#400a67"/>
<rect x="563.7" y="197.59" width="15.62" height="3.88" fill="#420a68"/>
<rect x="563.7" y="201.17" width="15.62" height="3.88" fill="#450a69"/>
<rect x="563.7" y="204.75" width="15.62" height="3.88" fill="#4d0d6c"/>
<rect x="563.7" y="208.33" width="15.62" height="3.88" fill="#5a116e"/>
<rect x="563.7" y="211.91" width="15.62" height="3.88" fill="#721a6e"/>
<rect x="563.7" y="215.49" width="15.62" height="3.88" fill="#932667"/>
<rect x="563.7" y="219.07" width="15.62" height="3.88" fill="#b93556"/>
<rect x="563.7" y="222.65" width="15.62" height="3.88" fill="#d34743"/>
<rect x="563.7" y="226.23" width="15.62" height="3.88" fill="#dd513a"/>
<rect x="563.7" y="229.81" width="15.62" height="3.88" fill="#d24644"/>
<rect x="563.7" y="233.39" width="15.62" height="3.88" fill="#b43359"/>
<rect x="563.7" y="236.97" width="15.62" height="3.88" fill="#902568"/>
<rect x="563.7" y="240.55" width="15.62" height="3.88" fill="#6f196e"/>
<rect x="563.7" y="244.13" width="15.62" height="3.88" fill="#59106e"/>
<rect x="563.7" y="247.71" width="15.62" height="3.88" fill="#4c0c6b"/>
<rect x="563.7" y="251.29" width="15.62" height="3.88" fill="#450a69"/>
<rect x="563.7" y="254.87" width="15.62" height="3.88" fill="#420a68"/>
<rect x="563.7" y="258.45" width="15.62" height="3.88" fill="#400a67"/>
<rect x="563.7" y="262.03" width="15.62" height="1.27" fill="#3e0966"/>
<rect x="579.02" y="189" width="15.62" height="1.73" fill="#3e0966"/>
<rect x="579.02" y="190.43" width="15.62" height="3.88" fill="#3e0966"/>
<rect x="579.02" y="194.01" width="15.62" height="3.88" fill="#3e0966"/>
<rect x="579.02" y="197.59" width="15.62" height="3.88" fill="#400a67"/>
<rect x="579.02" y="201.17" width="15.62" height="3.88" fill="#420a68"/>
<rect x="579.02" y="204.75" width="15.62" height="3.88" fill="#470b6a"/>
<rect x="579.02" y="208.33" width="15.62" height="3.88" fill="#510e6c"/>
<rect x="579.02" y="211.91" width="15.62" height="3.88" fill="#61136e"/>
<rect x="579.02" y="215.49" width="15.62" height="3.88" fill="#771c6d"/>
<rect x="579.02" y="219.07" width="15.62" height="3.88" fill="#902568"/>
<rect x="579.02" y="222.65" width="15.62" height="3.88" fill="#a52c60"/>
<rect x="579.02" y="226.23" width="15.62" height="3.88" fill="#ad305d"/>
<rect x="579.02" y="229.81" width="15.62" height="3.88" fill="#a32c61"/>
<rect x="579.02" y="233.39" width="15.62" height="3.88" fill="#8d2369"/>
<rect x="579.02" y="236.97" width="15.62" height="3.88" fill="#741a6e"/>
<rect x="579.02" y="240.55" width="15.62" height="3.88" fill="#5f136e"/>
<rect x="579.02" y="244.13" width="15.62" height="3.88" fill="#4f0d6c"/>
<rect x="579.02" y="247.71" width="15.62" height="3.88" fill="#470b6a"/>
<rect x="579.02" y="251.29" width="15.62" height="3.88" fill="#420a68"/>
<rect x="579.02" y="254.87" width="15.62" height="3.88" fill="#400a67"/>
<rect x="579.02" y="258.45" width="15.62" height="3.88" fill="#3e0966"/>
<rect x="579.02" y="262.03" width="15.62" height="1.27" fill="#3e0966"/>
<rect x="594.34" y="189" width="15.62" height="1.73" fill="#3e0966"/>
<rect x="594.34" y="190.43" width="15.62" height="3.88" fill="#3e0966"/>
<rect x="594.34" y="194.01" width="15.62" height="3.88" fill="#3e0966"/>
<rect x="594.34" y="197.59" width="15.62" height="3.88" fill="#3e0966"/>
<rect x="594.34" y="201.17" width="15.62" height="3.88" fill="#400a67"/>
<rect x="594.34" y="204.75" width="15.62" height="3.88" fill="#450a69"/>
<rect x="594.34" y="208.33" width="15.62" height="3.88" fill="#4c0c6b"/>
<rect x="594.34" y="211.91" width="15.62" height="3.88" fill="#57106e"/>
<rect x="594.34" y="215.49" width="15.62" height="3.88" fill="#67166e"/>
<rect x="594.34" y="219.07" width="15.62" height="3.88" fill="#7a1d6d"/>
<rect x="594.34" y="222.65" width="15.62" height="3.88" fill="#88226a"/>
<rect x="594.34" y="226.23" width="15.62" height="3.88" fill="#8f2469"/>
<rect x="594.34" y="229.81" width="15.62" height="3.88" fill="#87216b"/>
<rect x="594.34" y="233.39" width="15.62" height="3.88" fill="#771c6d"/>
<rect x="594.34" y="236.97" width="15.62" height="3.88" fill="#65156e"/>
<rect x="594.34" y="240.55" width="15.62" height="3.88" fill="#550f6d"/>
<rect x="594.34" y="244.13" width="15.62" height="3.88" fill="#4a0c6b"/>
<rect x="594.34" y="247.71" width="15.62" height="3.88" fill="#440a68"/>
<rect x="594.34" y="251.29" width="15.62" height="3.88" fill="#400a67"/>
<rect x="594.34" y="254.87" width="15.62" height="3.88" fill="#3e0966"/>
<rect x="594.34" y="258.45" width="15.62" height="3.88" fill="#3e0966"/>
<rect x="594.34" y="262.03" width="15.62" height="1.27" fill="#3e0966"/>
<rect x="609.67" y="189" width="15.62" height="1.73" fill="#440a68"/>
<rect x="609.67" y="190.43" width="15.62" height="3.88" fill="#450a69"/>
<rect x="609.67" y="194.01" width="15.62" height="3.88" fill="#450a69"/>
<rect x="609.67" y="197.59" width="15.62" height="3.88" fill="#450a69"/>
<rect x="609.67" y="201.17" width="15.62" height="3.88" fill="#470b6a"/>
<rect x="609.67" y="204.75" width="15.62" height="3.88" fill="#4a0c6b"/>
<rect x="609.67" y="208.33" width="15.62" height="3.88" fill="#4f0d6c"/>
<rect x="609.67" y="211.91" width="15.62" height="3.88" fill="#59106e"/>
<rect x="609.67" y="215.49" width="15.62" height="3.88" fill="#65156e"/>
<rect x="609.67" y="219.07" width="15.62" height="3.88" fill="#751b6e"/>
<rect x="609.67" y="222.65" width="15.62" height="3.88" fill="#801f6c"/>
<rect x="609.67" y="226.23" width="15.62" height="3.88" fill="#85216b"/>
<rect x="609.67" y="229.81" width="15.62" height="3.88" fill="#7f1e6c"/>
<rect x="609.67" y="233.39" width="15.62" height="3.88" fill="#721a6e"/>
<rect x="609.67" y="236.97" width="15.62" height="3.88" fill="#64156e"/>
<rect x="609.67" y="240.55" width="15.62" height="3.88" fill="#57106e"/>
<rect x="609.67" y="244.13" width="15.62" height="3.88" fill="#4f0d6c"/>
<rect x="609.67" y="247.71" width="15.62" height="3.88" fill="#490b6a"/>
<rect x="609.67" y="251.29" width="15.62" height="3.88" fill="#470b6a"/>
<rect x="609.67" y="254.87" width="15.62" height="3.88" fill="#450a69"/>
<rect x="609.67" y="258.45" width="15.62" height="3.88" fill="#450a69"/>
<rect x="609.67" y="262.03" width="15.62" height="1.27" fill="#450a69"/>
<rect x="624.99" y="189" width="15.62" height="1.73" fill="#57106e"/>
<rect x="624.99" y="190.43" width="15.62" height="3.88" fill="#57106e"/>
<rect x="624.99" y="194.01" width="15.62" height="3.88" fill="#57106e"/>
<rect x="624.99" y="197.59" width="15.62" height="3.88" fill="#57106e"/>
<rect x="624.99" y="201.17" width="15.62" height="3.88" fill="#59106e"/>
<rect x="624.99" y="204.75" width="15.62" height="3.88" fill="#5c126e"/>
<rect x="624.99" y="208.33" width="15.62" height="3.88" fill="#61136e"/>
<rect x="624.99" y="211.91" width="15.62" height="3.88" fill="#69166e"/>
<rect x="624.99" y="215.49" width="15.62" height="3.88" fill="#741a6e"/>
<rect x="624.99" y="219.07" width="15.62" height="3.88" fill="#801f6c"/>
<rect x="624.99" y="222.65" width="15.62" height="3.88" fill="#8c2369"/>
<rect x="624.99" y="226.23" width="15.62" height="3.88" fill="#902568"/>
<rect x="624.99" y="229.81" width="15.62" height="3.88" fill="#8a226a"/>
<rect x="624.99" y="233.39" width="15.62" height="3.88" fill="#7f1e6c"/>
<rect x="624.99" y="236.97" width="15.62" height="3.88" fill="#721a6e"/>
<rect x="624.99" y="240.55" width="15.62" height="3.88" fill="#67166e"/>
<rect x="624.99" y="244.13" width="15.62" height="3.88" fill="#5f136e"/>
<rect x="624.99" y="247.71" width="15.62" height="3.88" fill="#5a116e"/>
<rect x="624.99" y="251.29" width="15.62" height="3.88" fill="#59106e"/>
<rect x="624.99" y="254.87" width="15.62" height="3.88" fill="#57106e"/>
<rect x="624.99" y="258.45" width="15.62" height="3.88" fill="#57106e"/>
<rect x="624.99" y="262.03" width="15.62" height="1.27" fill="#57106e"/>
<rect x="640.31" y="189" width="15.62" height="1.73" fill="#741a6e"/>
<rect x="640.31" y="190.43" width="15.62" height="3.88" fill="#741a6e"/>
<rect x="640.31" y="194.01" width="15.62" height="3.88" fill="#741a6e"/>
<rect x="640.31" y="197.59" width="15.62" height="3.88" fill="#741a6e"/>
<rect x="640.31" y="201.17" width="15.62" height="3.88" fill="#751b6e"/>
<rect x="640.31" y="204.75" width="15.62" height="3.88" fill="#771c6d"/>
<rect x="640.31" y="208.33" width="15.62" height="3.88" fill="#7a1d6d"/>
<rect x="640.31" y="211.91" width="15.62" height="3.88" fill="#82206c"/>
<rect x="640.31" y="215.49" width="15.62" height="3.88" fill="#8a226a"/>
<rect x="640.31" y="219.07" width="15.62" height="3.88" fill="#952667"/>
<rect x="640.31" y="222.65" width="15.62" height="3.88" fill="#9d2964"/>
<rect x="640.31" y="226.23" width="15.62" height="3.88" fill="#a02a63"/>
<rect x="640.31" y="229.81" width="15.62" height="3.88" fill="#9d2964"/>
<rect x="640.31" y="233.39" width="15.62" height="3.88" fill="#932667"/>
<rect x="640.31" y="236.97" width="15.62" height="3.88" fill="#8a226a"/>
<rect x="640.31" y="240.55" width="15.62" height="3.88" fill="#801f6c"/>
<rect x="640.31" y="244.13" width="15.62" height="3.88" fill="#7a1d6d"/>
<rect x="640.31" y="247.71" width="15.62" height="3.88" fill="#771c6d"/>
<rect x="640.31" y="251.29" width="15.62" height="3.88" fill="#751b6e"/>
<rect x="640.31" y="254.87" width="15.62" height="3.88" fill="#741a6e"/>
<rect x="640.31" y="258.45" width="15.62" height="3.88" fill="#741a6e"/>
<rect x="640.31" y="262.03" width="15.62" height="1.27" fill="#741a6e"/>
<rect x="655.64" y="189" width="9.16" height="1.73" fill="#a32c61"/>
<rect x="655.64" y="190.43" width="9.16" height="3.88" fill="#a32c61"/>
<rect x="655.64" y="194.01" width="9.16" height="3.88" fill="#a52c60"/>
<rect x="655.64" y="197.59" width="9.16" height="3.88" fill="#a52c60"/>
<rect x="655.64" y="201.17" width="9.16" height="3.88" fill="#a52c60"/>
<rect x="655.64" y="204.75" width="9.16" height="3.88" fill="#a62d60"/>
<rect x="655.64" y="208.33" width="9.16" height="3.88" fill="#a92e5e"/>
<rect x="655.64" y="211.91" width="9.16" height="3.88" fill="#b0315b"/>
<rect x="655.64" y="215.49" width="9.16" height="3.88" fill="#b73557"/>
<rect x="655.64" y="219.07" width="9.16" height="3.88" fill="#bf3952"/>
<rect x="655.64" y="222.65" width="9.16" height="3.88" fill="#c63d4d"/>
<rect x="655.64" y="226.23" width="9.16" height="3.88" fill="#c83f4b"/>
<rect x="655.64" y="229.81" width="9.16" height="3.88" fill="#c63d4d"/>
<rect x="655.64" y="233.39" width="9.16" height="3.88" fill="#bf3952"/>
<rect x="655.64" y="236.97" width="9.16" height="3.88" fill="#b63458"/>
<rect x="655.64" y="240.55" width="9.16" height="3.88" fill="#ae305c"/>
<rect x="655.64" y="244.13" width="9.16" height="3.88" fill="#a92e5e"/>
<rect x="655.64" y="247.71" width="9.16" height="3.88" fill="#a62d60"/>
<rect x="655.64" y="251.29" width="9.16" height="3.88" fill="#a52c60"/>
<rect x="655.64" y="254.87" width="9.16" height="3.88" fill="#a52c60"/>
<rect x="655.64" y="258.45" width="9.16" height="3.88" fill="#a52c60"/>
<rect x="655.64" y="262.03" width="9.16" height="1.27" fill="#a32c61"/>
</g>
<rect x="404" y="41.5" width="260.5" height="221.5" fill="none" stroke="#000" stroke-width="1"/>
<line x1="404.5" y1="115.5" x2="664" y2="115.5" stroke="#fff" stroke-width="1" shape-rendering="crispEdges"/>
<line x1="404.5" y1="189.5" x2="664" y2="189.5" stroke="#fff" stroke-width="1" shape-rendering="crispEdges"/>
<line x1="449.97" y1="115.5" x2="449.97" y2="110.5" stroke="#fff" stroke-width="1.1"/>
<line x1="511.26" y1="115.5" x2="511.26" y2="110.5" stroke="#fff" stroke-width="1.1"/>
<line x1="572.56" y1="115.5" x2="572.56" y2="110.5" stroke="#fff" stroke-width="1.1"/>
<line x1="633.85" y1="115.5" x2="633.85" y2="110.5" stroke="#fff" stroke-width="1.1"/>
<line x1="404" y1="78.5" x2="409" y2="78.5" stroke="#fff" stroke-width="1.1"/>
<line x1="449.97" y1="189" x2="449.97" y2="184" stroke="#fff" stroke-width="1.1"/>
<line x1="511.26" y1="189" x2="511.26" y2="184" stroke="#fff" stroke-width="1.1"/>
<line x1="572.56" y1="189" x2="572.56" y2="184" stroke="#fff" stroke-width="1.1"/>
<line x1="633.85" y1="189" x2="633.85" y2="184" stroke="#fff" stroke-width="1.1"/>
<line x1="404" y1="152.25" x2="409" y2="152.25" stroke="#fff" stroke-width="1.1"/>
<line x1="449.97" y1="263" x2="449.97" y2="258" stroke="#fff" stroke-width="1.1"/>
<line x1="511.26" y1="263" x2="511.26" y2="258" stroke="#fff" stroke-width="1.1"/>
<line x1="572.56" y1="263" x2="572.56" y2="258" stroke="#fff" stroke-width="1.1"/>
<line x1="633.85" y1="263" x2="633.85" y2="258" stroke="#fff" stroke-width="1.1"/>
<line x1="404" y1="226" x2="409" y2="226" stroke="#fff" stroke-width="1.1"/>
<g class="dj" font-size="15.6" fill="#000">
<text x="400.5" y="48" text-anchor="end">−0.4995</text>
<text x="400.5" y="85" text-anchor="end">−0.5000</text>
<text x="400.5" y="122" text-anchor="end">−0.5005</text>
<text x="400.5" y="158.8" text-anchor="end">−0.5000</text>
<text x="400.5" y="195.5" text-anchor="end">−0.5005</text>
<text x="400.5" y="232.5" text-anchor="end">−0.5000</text>
<text x="400.5" y="269.5" text-anchor="end">−0.5005</text>
<text x="450.87" y="281" text-anchor="middle">4966</text>
<text x="512.16" y="281" text-anchor="middle">4968</text>
<text x="573.46" y="281" text-anchor="middle">4970</text>
<text x="634.75" y="281" text-anchor="middle">4972</text>
<text x="534" y="301.5" text-anchor="middle">Energy (eV)</text>
<text transform="translate(324,152.5) rotate(-90)" text-anchor="middle">H in [H, 0.5, 2.5]</text>
<text class="wt" x="419.2" y="78.7" fill="#fff">LC</text>
<text class="wt" x="419.2" y="152.5" fill="#fff" font-size="16">RC</text>
<text class="wt" x="419.7" y="226.8" fill="#fff" font-style="italic">σ</text>
<text x="684.8" y="103.6">2</text>
<text x="684.8" y="214">0</text>
</g>
<rect x="667.5" y="97.5" width="6.5" height="110.5" fill="url(#gCb)" stroke="#000" stroke-width="1.6"/>
<line x1="674" y1="97.5" x2="680" y2="97.5" stroke="#000" stroke-width="1.1"/>
<line x1="674" y1="208" x2="680" y2="208" stroke="#000" stroke-width="1.1"/>
<text class="ar lb" transform="translate(298.6,61.300000000000004) scale(1.065,1)" font-size="25">(c)</text>
<clipPath id="cd"><rect x="406" y="324.5" width="264.5" height="222"/></clipPath>
<g clip-path="url(#cd)" fill="none">
<polyline points="406,535.6 413,535.2 421,534.3 428,533.2 434.6,531.5 440,529.6 444.2,527.4 449,523.8 453.8,519.2 459,514.3 464.7,509.7 469.5,507 474.3,505.6 479,507.3 485,510 490.7,512.4 497,512.9 503,513.2 510,513.4 516.6,513.2 521,512.2 524.8,510.5 529,507.8 533,504.2 537,498.6 541.2,491.9 545.3,484.2 549.4,475.5 553.5,465.5 557.6,455 562,441.5 566.2,427 571,414 576.7,402.3 584.5,389 592.5,376 598,365 603,355 607,347.5 610.8,341.8 615.5,336.5 620,334.1 624,334.2 627.9,334.9 632.5,339 637,344.6 641,350.2 644.9,356.4 649.5,365.5 654.1,374.8 658,382.5 662,389.2 666.5,393.8 670.6,397" stroke="#000" stroke-width="1.5" stroke-linejoin="round"/>
<polyline points="404.82,529.8 413.4,525.5 421.97,515.3 430.55,494 439.12,449.5 447.7,445.8 456.27,451 464.85,411.3 473.42,348.6 482,334.5 490.57,398.9 499.15,450.2 507.72,476.9 516.3,493.3 524.88,503.4 533.45,508.3 542.02,513.8 550.6,517 559.17,524 567.75,528 576.32,532.4" stroke="#ff0000" stroke-width="1.5" stroke-dasharray="5.8 2.5"/>
<circle cx="404.82" cy="529.8" r="3.3" stroke="#ff0000" stroke-width="1.4"/>
<line x1="404.82" y1="528.2" x2="404.82" y2="531.4" stroke="#ff0000" stroke-width="1"/>
<circle cx="413.4" cy="525.5" r="3.3" stroke="#ff0000" stroke-width="1.4"/>
<line x1="413.4" y1="523.9" x2="413.4" y2="527.1" stroke="#ff0000" stroke-width="1"/>
<circle cx="421.97" cy="515.3" r="3.3" stroke="#ff0000" stroke-width="1.4"/>
<line x1="421.97" y1="513.7" x2="421.97" y2="516.9" stroke="#ff0000" stroke-width="1"/>
<circle cx="430.55" cy="494" r="3.3" stroke="#ff0000" stroke-width="1.4"/>
<line x1="430.55" y1="492.4" x2="430.55" y2="495.6" stroke="#ff0000" stroke-width="1"/>
<circle cx="439.12" cy="449.5" r="3.3" stroke="#ff0000" stroke-width="1.4"/>
<line x1="439.12" y1="447.9" x2="439.12" y2="451.1" stroke="#ff0000" stroke-width="1"/>
<circle cx="447.7" cy="445.8" r="3.3" stroke="#ff0000" stroke-width="1.4"/>
<line x1="447.7" y1="444.2" x2="447.7" y2="447.4" stroke="#ff0000" stroke-width="1"/>
<circle cx="456.27" cy="451" r="3.3" stroke="#ff0000" stroke-width="1.4"/>
<line x1="456.27" y1="449.4" x2="456.27" y2="452.6" stroke="#ff0000" stroke-width="1"/>
<circle cx="464.85" cy="411.3" r="3.3" stroke="#ff0000" stroke-width="1.4"/>
<line x1="464.85" y1="409.7" x2="464.85" y2="412.9" stroke="#ff0000" stroke-width="1"/>
<circle cx="473.42" cy="348.6" r="3.3" stroke="#ff0000" stroke-width="1.4"/>
<line x1="473.42" y1="347" x2="473.42" y2="350.2" stroke="#ff0000" stroke-width="1"/>
<circle cx="482" cy="334.5" r="3.3" stroke="#ff0000" stroke-width="1.4"/>
<line x1="482" y1="332.9" x2="482" y2="336.1" stroke="#ff0000" stroke-width="1"/>
<circle cx="490.57" cy="398.9" r="3.3" stroke="#ff0000" stroke-width="1.4"/>
<line x1="490.57" y1="397.3" x2="490.57" y2="400.5" stroke="#ff0000" stroke-width="1"/>
<circle cx="499.15" cy="450.2" r="3.3" stroke="#ff0000" stroke-width="1.4"/>
<line x1="499.15" y1="448.6" x2="499.15" y2="451.8" stroke="#ff0000" stroke-width="1"/>
<circle cx="507.72" cy="476.9" r="3.3" stroke="#ff0000" stroke-width="1.4"/>
<line x1="507.72" y1="475.3" x2="507.72" y2="478.5" stroke="#ff0000" stroke-width="1"/>
<circle cx="516.3" cy="493.3" r="3.3" stroke="#ff0000" stroke-width="1.4"/>
<line x1="516.3" y1="491.7" x2="516.3" y2="494.9" stroke="#ff0000" stroke-width="1"/>
<circle cx="524.88" cy="503.4" r="3.3" stroke="#ff0000" stroke-width="1.4"/>
<line x1="524.88" y1="501.8" x2="524.88" y2="505" stroke="#ff0000" stroke-width="1"/>
<circle cx="533.45" cy="508.3" r="3.3" stroke="#ff0000" stroke-width="1.4"/>
<line x1="533.45" y1="506.7" x2="533.45" y2="509.9" stroke="#ff0000" stroke-width="1"/>
<circle cx="542.02" cy="513.8" r="3.3" stroke="#ff0000" stroke-width="1.4"/>
<line x1="542.02" y1="512.2" x2="542.02" y2="515.4" stroke="#ff0000" stroke-width="1"/>
<circle cx="550.6" cy="517" r="3.3" stroke="#ff0000" stroke-width="1.4"/>
<line x1="550.6" y1="515.4" x2="550.6" y2="518.6" stroke="#ff0000" stroke-width="1"/>
<circle cx="559.17" cy="524" r="3.3" stroke="#ff0000" stroke-width="1.4"/>
<line x1="559.17" y1="522.4" x2="559.17" y2="525.6" stroke="#ff0000" stroke-width="1"/>
<circle cx="567.75" cy="528" r="3.3" stroke="#ff0000" stroke-width="1.4"/>
<line x1="567.75" y1="526.4" x2="567.75" y2="529.6" stroke="#ff0000" stroke-width="1"/>
<circle cx="576.32" cy="532.4" r="3.3" stroke="#ff0000" stroke-width="1.4"/>
<line x1="576.32" y1="530.8" x2="576.32" y2="534" stroke="#ff0000" stroke-width="1"/>
<polyline points="404.82,529.6 413.4,525.5 421.97,515.1 430.55,493.8 439.12,448 447.7,420.7 456.27,456.5 464.85,455.8 473.42,428.2 482,401.2 490.57,425.4 499.15,457.6 507.72,478.3 516.3,491.9 524.88,502.3 533.45,507.8 542.02,510.7 550.6,513" stroke="#0000ff" stroke-width="1.5" stroke-dasharray="5.8 2.5"/>
<rect x="401.77" y="526.55" width="6.1" height="6.1" stroke="#0000ff" stroke-width="2"/>
<rect x="404.12" y="528.9" width="1.4" height="1.4" fill="#0000ff" fill-opacity="0.5"/>
<rect x="410.35" y="522.45" width="6.1" height="6.1" stroke="#0000ff" stroke-width="2"/>
<rect x="412.7" y="524.8" width="1.4" height="1.4" fill="#0000ff" fill-opacity="0.5"/>
<rect x="418.92" y="512.05" width="6.1" height="6.1" stroke="#0000ff" stroke-width="2"/>
<rect x="421.27" y="514.4" width="1.4" height="1.4" fill="#0000ff" fill-opacity="0.5"/>
<rect x="427.5" y="490.75" width="6.1" height="6.1" stroke="#0000ff" stroke-width="2"/>
<rect x="429.85" y="493.1" width="1.4" height="1.4" fill="#0000ff" fill-opacity="0.5"/>
<rect x="436.07" y="444.95" width="6.1" height="6.1" stroke="#0000ff" stroke-width="2"/>
<rect x="438.43" y="447.3" width="1.4" height="1.4" fill="#0000ff" fill-opacity="0.5"/>
<rect x="444.65" y="417.65" width="6.1" height="6.1" stroke="#0000ff" stroke-width="2"/>
<rect x="447" y="420" width="1.4" height="1.4" fill="#0000ff" fill-opacity="0.5"/>
<rect x="453.22" y="453.45" width="6.1" height="6.1" stroke="#0000ff" stroke-width="2"/>
<rect x="455.57" y="455.8" width="1.4" height="1.4" fill="#0000ff" fill-opacity="0.5"/>
<rect x="461.8" y="452.75" width="6.1" height="6.1" stroke="#0000ff" stroke-width="2"/>
<rect x="464.15" y="455.1" width="1.4" height="1.4" fill="#0000ff" fill-opacity="0.5"/>
<rect x="470.37" y="425.15" width="6.1" height="6.1" stroke="#0000ff" stroke-width="2"/>
<rect x="472.72" y="427.5" width="1.4" height="1.4" fill="#0000ff" fill-opacity="0.5"/>
<rect x="478.95" y="398.15" width="6.1" height="6.1" stroke="#0000ff" stroke-width="2"/>
<rect x="481.3" y="400.5" width="1.4" height="1.4" fill="#0000ff" fill-opacity="0.5"/>
<rect x="487.52" y="422.35" width="6.1" height="6.1" stroke="#0000ff" stroke-width="2"/>
<rect x="489.88" y="424.7" width="1.4" height="1.4" fill="#0000ff" fill-opacity="0.5"/>
<rect x="496.1" y="454.55" width="6.1" height="6.1" stroke="#0000ff" stroke-width="2"/>
<rect x="498.45" y="456.9" width="1.4" height="1.4" fill="#0000ff" fill-opacity="0.5"/>
<rect x="504.67" y="475.25" width="6.1" height="6.1" stroke="#0000ff" stroke-width="2"/>
<rect x="507.02" y="477.6" width="1.4" height="1.4" fill="#0000ff" fill-opacity="0.5"/>
<rect x="513.25" y="488.85" width="6.1" height="6.1" stroke="#0000ff" stroke-width="2"/>
<rect x="515.6" y="491.2" width="1.4" height="1.4" fill="#0000ff" fill-opacity="0.5"/>
<rect x="521.83" y="499.25" width="6.1" height="6.1" stroke="#0000ff" stroke-width="2"/>
<rect x="524.17" y="501.6" width="1.4" height="1.4" fill="#0000ff" fill-opacity="0.5"/>
<rect x="530.4" y="504.75" width="6.1" height="6.1" stroke="#0000ff" stroke-width="2"/>
<rect x="532.75" y="507.1" width="1.4" height="1.4" fill="#0000ff" fill-opacity="0.5"/>
<rect x="538.98" y="507.65" width="6.1" height="6.1" stroke="#0000ff" stroke-width="2"/>
<rect x="541.32" y="510" width="1.4" height="1.4" fill="#0000ff" fill-opacity="0.5"/>
<rect x="547.55" y="509.95" width="6.1" height="6.1" stroke="#0000ff" stroke-width="2"/>
<rect x="549.9" y="512.3" width="1.4" height="1.4" fill="#0000ff" fill-opacity="0.5"/>
<polyline points="404.82,537.2 413.4,535.6 421.97,532.1 430.55,527.4 439.12,516 447.7,506.1 456.27,506.9 464.85,490 473.42,432.4 482,392.6 490.57,425.4 499.15,466 507.72,491.1 516.3,504.8 524.88,511.6 533.45,515.1 542.02,520.6 550.6,523.4 559.17,526.5 567.75,531.4 576.32,533 584.9,536.3" stroke="#000000" stroke-width="1.5" stroke-dasharray="5.8 2.5"/>
<path d="M404.82 533 L408.52 539.8 L401.12 539.8 Z" stroke="#000000" stroke-width="1.4"/>
<line x1="404.82" y1="535.6" x2="404.82" y2="538.8" stroke="#000000" stroke-width="1"/>
<path d="M413.4 531.4 L417.1 538.2 L409.7 538.2 Z" stroke="#000000" stroke-width="1.4"/>
<line x1="413.4" y1="534" x2="413.4" y2="537.2" stroke="#000000" stroke-width="1"/>
<path d="M421.97 527.9 L425.67 534.7 L418.27 534.7 Z" stroke="#000000" stroke-width="1.4"/>
<line x1="421.97" y1="530.5" x2="421.97" y2="533.7" stroke="#000000" stroke-width="1"/>
<path d="M430.55 523.2 L434.25 530 L426.85 530 Z" stroke="#000000" stroke-width="1.4"/>
<line x1="430.55" y1="525.8" x2="430.55" y2="529" stroke="#000000" stroke-width="1"/>
<path d="M439.12 511.8 L442.82 518.6 L435.43 518.6 Z" stroke="#000000" stroke-width="1.4"/>
<line x1="439.12" y1="514.4" x2="439.12" y2="517.6" stroke="#000000" stroke-width="1"/>
<path d="M447.7 501.9 L451.4 508.7 L444 508.7 Z" stroke="#000000" stroke-width="1.4"/>
<line x1="447.7" y1="504.5" x2="447.7" y2="507.7" stroke="#000000" stroke-width="1"/>
<path d="M456.27 502.7 L459.97 509.5 L452.57 509.5 Z" stroke="#000000" stroke-width="1.4"/>
<line x1="456.27" y1="505.3" x2="456.27" y2="508.5" stroke="#000000" stroke-width="1"/>
<path d="M464.85 485.8 L468.55 492.6 L461.15 492.6 Z" stroke="#000000" stroke-width="1.4"/>
<line x1="464.85" y1="488.4" x2="464.85" y2="491.6" stroke="#000000" stroke-width="1"/>
<path d="M473.42 428.2 L477.12 435 L469.72 435 Z" stroke="#000000" stroke-width="1.4"/>
<line x1="473.42" y1="430.8" x2="473.42" y2="434" stroke="#000000" stroke-width="1"/>
<path d="M482 388.4 L485.7 395.2 L478.3 395.2 Z" stroke="#000000" stroke-width="1.4"/>
<line x1="482" y1="391" x2="482" y2="394.2" stroke="#000000" stroke-width="1"/>
<path d="M490.57 421.2 L494.27 428 L486.88 428 Z" stroke="#000000" stroke-width="1.4"/>
<line x1="490.57" y1="423.8" x2="490.57" y2="427" stroke="#000000" stroke-width="1"/>
<path d="M499.15 461.8 L502.85 468.6 L495.45 468.6 Z" stroke="#000000" stroke-width="1.4"/>
<line x1="499.15" y1="464.4" x2="499.15" y2="467.6" stroke="#000000" stroke-width="1"/>
<path d="M507.72 486.9 L511.42 493.7 L504.02 493.7 Z" stroke="#000000" stroke-width="1.4"/>
<line x1="507.72" y1="489.5" x2="507.72" y2="492.7" stroke="#000000" stroke-width="1"/>
<path d="M516.3 500.6 L520 507.4 L512.6 507.4 Z" stroke="#000000" stroke-width="1.4"/>
<line x1="516.3" y1="503.2" x2="516.3" y2="506.4" stroke="#000000" stroke-width="1"/>
<path d="M524.88 507.4 L528.58 514.2 L521.17 514.2 Z" stroke="#000000" stroke-width="1.4"/>
<line x1="524.88" y1="510" x2="524.88" y2="513.2" stroke="#000000" stroke-width="1"/>
<path d="M533.45 510.9 L537.15 517.7 L529.75 517.7 Z" stroke="#000000" stroke-width="1.4"/>
<line x1="533.45" y1="513.5" x2="533.45" y2="516.7" stroke="#000000" stroke-width="1"/>
<path d="M542.02 516.4 L545.73 523.2 L538.32 523.2 Z" stroke="#000000" stroke-width="1.4"/>
<line x1="542.02" y1="519" x2="542.02" y2="522.2" stroke="#000000" stroke-width="1"/>
<path d="M550.6 519.2 L554.3 526 L546.9 526 Z" stroke="#000000" stroke-width="1.4"/>
<line x1="550.6" y1="521.8" x2="550.6" y2="525" stroke="#000000" stroke-width="1"/>
<path d="M559.17 522.3 L562.88 529.1 L555.47 529.1 Z" stroke="#000000" stroke-width="1.4"/>
<line x1="559.17" y1="524.9" x2="559.17" y2="528.1" stroke="#000000" stroke-width="1"/>
<path d="M567.75 527.2 L571.45 534 L564.05 534 Z" stroke="#000000" stroke-width="1.4"/>
<line x1="567.75" y1="529.8" x2="567.75" y2="533" stroke="#000000" stroke-width="1"/>
<path d="M576.32 528.8 L580.02 535.6 L572.62 535.6 Z" stroke="#000000" stroke-width="1.4"/>
<line x1="576.32" y1="531.4" x2="576.32" y2="534.6" stroke="#000000" stroke-width="1"/>
<path d="M584.9 532.1 L588.6 538.9 L581.2 538.9 Z" stroke="#000000" stroke-width="1.4"/>
<line x1="584.9" y1="534.7" x2="584.9" y2="537.9" stroke="#000000" stroke-width="1"/>
</g>
<rect x="406" y="324.5" width="264.5" height="222" fill="none" stroke="#000" stroke-width="1.1"/>
<line x1="413.4" y1="546.5" x2="413.4" y2="541.5" stroke="#000" stroke-width="1.1"/>
<line x1="464.85" y1="546.5" x2="464.85" y2="541.5" stroke="#000" stroke-width="1.1"/>
<line x1="516.3" y1="546.5" x2="516.3" y2="541.5" stroke="#000" stroke-width="1.1"/>
<line x1="567.75" y1="546.5" x2="567.75" y2="541.5" stroke="#000" stroke-width="1.1"/>
<line x1="619.2" y1="546.5" x2="619.2" y2="541.5" stroke="#000" stroke-width="1.1"/>
<line x1="406" y1="540.7" x2="411" y2="540.7" stroke="#000" stroke-width="1.1"/>
<line x1="406" y1="482.35" x2="411" y2="482.35" stroke="#000" stroke-width="1.1"/>
<line x1="406" y1="424" x2="411" y2="424" stroke="#000" stroke-width="1.1"/>
<line x1="406" y1="365.65" x2="411" y2="365.65" stroke="#000" stroke-width="1.1"/>
<line x1="670.5" y1="537" x2="665.5" y2="537" stroke="#000" stroke-width="1.1"/>
<line x1="670.5" y1="496.4" x2="665.5" y2="496.4" stroke="#000" stroke-width="1.1"/>
<line x1="670.5" y1="455.8" x2="665.5" y2="455.8" stroke="#000" stroke-width="1.1"/>
<line x1="670.5" y1="415.2" x2="665.5" y2="415.2" stroke="#000" stroke-width="1.1"/>
<line x1="670.5" y1="374.6" x2="665.5" y2="374.6" stroke="#000" stroke-width="1.1"/>
<line x1="670.5" y1="334" x2="665.5" y2="334" stroke="#000" stroke-width="1.1"/>
<g class="dj" font-size="15.6" fill="#000">
<text x="413.4" y="564.2" text-anchor="middle">4965</text>
<text x="464.85" y="564.2" text-anchor="middle">4968</text>
<text x="516.3" y="564.2" text-anchor="middle">4971</text>
<text x="567.75" y="564.2" text-anchor="middle">4974</text>
<text x="619.2" y="564.2" text-anchor="middle">4977</text>
<text x="670.65" y="564.2" text-anchor="middle">4980</text>
<text x="401" y="546.1" text-anchor="end">0.0000</text>
<text x="401" y="487.75" text-anchor="end">0.0002</text>
<text x="401" y="429.4" text-anchor="end">0.0004</text>
<text x="401" y="371.05" text-anchor="end">0.0006</text>
<text x="675.5" y="542.4">0.0</text>
<text x="675.5" y="501.8">0.2</text>
<text x="675.5" y="461.2">0.4</text>
<text x="675.5" y="420.6">0.6</text>
<text x="675.5" y="380">0.8</text>
<text x="675.5" y="339.4">1.0</text>
<text x="538" y="584.8" text-anchor="middle" font-size="15.3">Energy (eV)</text>
<text transform="translate(335.7,436) rotate(-90)" text-anchor="middle" font-size="15.3">Integrated intensity (a.u.)</text>
<text transform="translate(717.5,437) rotate(-90)" text-anchor="middle">XAS</text>
</g>
<rect x="590.8" y="442.8" width="67.2" height="64.4" rx="2.2" fill="#fff" fill-opacity="0.8" stroke="#ccc" stroke-width="1"/>
<g fill="none">
<line x1="594.8" y1="454" x2="623.8" y2="454" stroke="#ff0000" stroke-width="1.5" stroke-dasharray="5.8 2.5"/>
<circle cx="609.3" cy="454" r="3.3" stroke="#ff0000" stroke-width="1.4"/>
<line x1="594.8" y1="474.2" x2="623.8" y2="474.2" stroke="#0000ff" stroke-width="1.5" stroke-dasharray="5.8 2.5"/>
<rect x="606.25" y="471.15" width="6.1" height="6.1" stroke="#0000ff" stroke-width="2"/>
<line x1="594.8" y1="495.3" x2="623.8" y2="495.3" stroke="#000000" stroke-width="1.5" stroke-dasharray="5.8 2.5"/>
<path d="M609.3 491.1 L613 497.9 L605.6 497.9 Z" stroke="#000000" stroke-width="1.4"/>
</g>
<g class="dj" font-size="15.6" fill="#000">
<text x="635" y="459.4" font-size="15.2">LC</text><text x="635" y="479.6" font-size="15.2">RC</text><text x="635" y="500" font-style="italic">σ</text>
</g>
<text class="ar lb" transform="translate(323.8,325.7) scale(1.065,1)" font-size="25">(d)</text>
<text class="ar lb" transform="translate(37,86.6) scale(1.065,1)" font-size="25">(a)</text>
<polygon points="110.4,229.5 291.3,154 308.5,181.7 127.1,257.2" fill="#969696"/>
<polygon points="127.1,257.2 308.5,181.7 308.5,257.2" fill="#6f6f6f"/>
<circle cx="129" cy="171.9" r="3.1" fill="url(#gSe)"/>
<circle cx="134.7" cy="173.35" r="3.18" fill="url(#gSe)"/>
<circle cx="140.4" cy="174.8" r="3.26" fill="url(#gSe)"/>
<circle cx="146.1" cy="176.25" r="3.34" fill="url(#gSe)"/>
<circle cx="111.5" cy="159.5" r="4.3" fill="url(#gTi)"/>
<circle cx="117.4" cy="161.35" r="4.52" fill="url(#gTi)"/>
<circle cx="123.3" cy="163.2" r="4.74" fill="url(#gTi)"/>
<circle cx="129.2" cy="165.05" r="4.96" fill="url(#gTi)"/>
<circle cx="135.1" cy="166.9" r="5.18" fill="url(#gTi)"/>
<circle cx="158.5" cy="163.1" r="3.1" fill="url(#gSe)"/>
<circle cx="164.2" cy="164.55" r="3.18" fill="url(#gSe)"/>
<circle cx="169.9" cy="166" r="3.26" fill="url(#gSe)"/>
<circle cx="175.6" cy="167.45" r="3.34" fill="url(#gSe)"/>
<circle cx="141" cy="150.7" r="4.3" fill="url(#gTi)"/>
<circle cx="146.9" cy="152.55" r="4.52" fill="url(#gTi)"/>
<circle cx="152.8" cy="154.4" r="4.74" fill="url(#gTi)"/>
<circle cx="158.7" cy="156.25" r="4.96" fill="url(#gTi)"/>
<circle cx="164.6" cy="158.1" r="5.18" fill="url(#gTi)"/>
<circle cx="130.3" cy="141.3" r="3.1" fill="url(#gSe)"/>
<circle cx="135.95" cy="143.2" r="3.18" fill="url(#gSe)"/>
<circle cx="141.6" cy="145.1" r="3.26" fill="url(#gSe)"/>
<circle cx="147.25" cy="147" r="3.34" fill="url(#gSe)"/>
<circle cx="188" cy="153.1" r="3.1" fill="url(#gSe)"/>
<circle cx="193.7" cy="154.55" r="3.18" fill="url(#gSe)"/>
<circle cx="199.4" cy="156" r="3.26" fill="url(#gSe)"/>
<circle cx="205.1" cy="157.45" r="3.34" fill="url(#gSe)"/>
<circle cx="170.5" cy="140.7" r="4.3" fill="url(#gTi)"/>
<circle cx="176.4" cy="142.55" r="4.52" fill="url(#gTi)"/>
<circle cx="182.3" cy="144.4" r="4.74" fill="url(#gTi)"/>
<circle cx="188.2" cy="146.25" r="4.96" fill="url(#gTi)"/>
<circle cx="194.1" cy="148.1" r="5.18" fill="url(#gTi)"/>
<circle cx="159.8" cy="131.3" r="3.1" fill="url(#gSe)"/>
<circle cx="165.45" cy="133.2" r="3.18" fill="url(#gSe)"/>
<circle cx="171.1" cy="135.1" r="3.26" fill="url(#gSe)"/>
<circle cx="176.75" cy="137" r="3.34" fill="url(#gSe)"/>
<circle cx="218" cy="143.1" r="3.1" fill="url(#gSe)"/>
<circle cx="223.7" cy="144.55" r="3.18" fill="url(#gSe)"/>
<circle cx="229.4" cy="146" r="3.26" fill="url(#gSe)"/>
<circle cx="235.1" cy="147.45" r="3.34" fill="url(#gSe)"/>
<circle cx="200.5" cy="130.7" r="4.3" fill="url(#gTi)"/>
<circle cx="206.4" cy="132.55" r="4.52" fill="url(#gTi)"/>
<circle cx="212.3" cy="134.4" r="4.74" fill="url(#gTi)"/>
<circle cx="218.2" cy="136.25" r="4.96" fill="url(#gTi)"/>
<circle cx="224.1" cy="138.1" r="5.18" fill="url(#gTi)"/>
<circle cx="189.8" cy="121.3" r="3.1" fill="url(#gSe)"/>
<circle cx="195.45" cy="123.2" r="3.18" fill="url(#gSe)"/>
<circle cx="201.1" cy="125.1" r="3.26" fill="url(#gSe)"/>
<circle cx="206.75" cy="127" r="3.34" fill="url(#gSe)"/>
<circle cx="230" cy="121.3" r="4.3" fill="url(#gTi)"/>
<circle cx="235.9" cy="123.15" r="4.52" fill="url(#gTi)"/>
<circle cx="241.8" cy="125" r="4.74" fill="url(#gTi)"/>
<circle cx="247.7" cy="126.85" r="4.96" fill="url(#gTi)"/>
<circle cx="253.6" cy="128.7" r="5.18" fill="url(#gTi)"/>
<circle cx="219.3" cy="111.9" r="3.1" fill="url(#gSe)"/>
<circle cx="224.95" cy="113.8" r="3.18" fill="url(#gSe)"/>
<circle cx="230.6" cy="115.7" r="3.26" fill="url(#gSe)"/>
<circle cx="236.25" cy="117.6" r="3.34" fill="url(#gSe)"/>
<circle cx="149.5" cy="225" r="3.1" fill="url(#gSe)"/>
<circle cx="155.2" cy="226.45" r="3.18" fill="url(#gSe)"/>
<circle cx="160.9" cy="227.9" r="3.26" fill="url(#gSe)"/>
<circle cx="166.6" cy="229.35" r="3.34" fill="url(#gSe)"/>
<circle cx="132" cy="212.6" r="4.3" fill="url(#gTi)"/>
<circle cx="137.9" cy="214.45" r="4.52" fill="url(#gTi)"/>
<circle cx="143.8" cy="216.3" r="4.74" fill="url(#gTi)"/>
<circle cx="149.7" cy="218.15" r="4.96" fill="url(#gTi)"/>
<circle cx="155.6" cy="220" r="5.18" fill="url(#gTi)"/>
<circle cx="178.5" cy="214.3" r="3.1" fill="url(#gSe)"/>
<circle cx="184.2" cy="215.75" r="3.18" fill="url(#gSe)"/>
<circle cx="189.9" cy="217.2" r="3.26" fill="url(#gSe)"/>
<circle cx="195.6" cy="218.65" r="3.34" fill="url(#gSe)"/>
<circle cx="161" cy="201.9" r="4.3" fill="url(#gTi)"/>
<circle cx="166.9" cy="203.75" r="4.52" fill="url(#gTi)"/>
<circle cx="172.8" cy="205.6" r="4.74" fill="url(#gTi)"/>
<circle cx="178.7" cy="207.45" r="4.96" fill="url(#gTi)"/>
<circle cx="184.6" cy="209.3" r="5.18" fill="url(#gTi)"/>
<circle cx="150.3" cy="192.5" r="3.1" fill="url(#gSe)"/>
<circle cx="155.95" cy="194.4" r="3.18" fill="url(#gSe)"/>
<circle cx="161.6" cy="196.3" r="3.26" fill="url(#gSe)"/>
<circle cx="167.25" cy="198.2" r="3.34" fill="url(#gSe)"/>
<circle cx="208.2" cy="205.7" r="3.1" fill="url(#gSe)"/>
<circle cx="213.9" cy="207.15" r="3.18" fill="url(#gSe)"/>
<circle cx="219.6" cy="208.6" r="3.26" fill="url(#gSe)"/>
<circle cx="225.3" cy="210.05" r="3.34" fill="url(#gSe)"/>
<circle cx="190.7" cy="193.3" r="4.3" fill="url(#gTi)"/>
<circle cx="196.6" cy="195.15" r="4.52" fill="url(#gTi)"/>
<circle cx="202.5" cy="197" r="4.74" fill="url(#gTi)"/>
<circle cx="208.4" cy="198.85" r="4.96" fill="url(#gTi)"/>
<circle cx="214.3" cy="200.7" r="5.18" fill="url(#gTi)"/>
<circle cx="180" cy="183.9" r="3.1" fill="url(#gSe)"/>
<circle cx="185.65" cy="185.8" r="3.18" fill="url(#gSe)"/>
<circle cx="191.3" cy="187.7" r="3.26" fill="url(#gSe)"/>
<circle cx="196.95" cy="189.6" r="3.34" fill="url(#gSe)"/>
<circle cx="237.1" cy="196" r="3.1" fill="url(#gSe)"/>
<circle cx="242.8" cy="197.45" r="3.18" fill="url(#gSe)"/>
<circle cx="248.5" cy="198.9" r="3.26" fill="url(#gSe)"/>
<circle cx="254.2" cy="200.35" r="3.34" fill="url(#gSe)"/>
<circle cx="219.6" cy="183.6" r="4.3" fill="url(#gTi)"/>
<circle cx="225.5" cy="185.45" r="4.52" fill="url(#gTi)"/>
<circle cx="231.4" cy="187.3" r="4.74" fill="url(#gTi)"/>
<circle cx="237.3" cy="189.15" r="4.96" fill="url(#gTi)"/>
<circle cx="243.2" cy="191" r="5.18" fill="url(#gTi)"/>
<circle cx="208.9" cy="174.2" r="3.1" fill="url(#gSe)"/>
<circle cx="214.55" cy="176.1" r="3.18" fill="url(#gSe)"/>
<circle cx="220.2" cy="178" r="3.26" fill="url(#gSe)"/>
<circle cx="225.85" cy="179.9" r="3.34" fill="url(#gSe)"/>
<circle cx="249.2" cy="173" r="4.3" fill="url(#gTi)"/>
<circle cx="255.1" cy="174.85" r="4.52" fill="url(#gTi)"/>
<circle cx="261" cy="176.7" r="4.74" fill="url(#gTi)"/>
<circle cx="266.9" cy="178.55" r="4.96" fill="url(#gTi)"/>
<circle cx="272.8" cy="180.4" r="5.18" fill="url(#gTi)"/>
<circle cx="238.5" cy="163.6" r="3.1" fill="url(#gSe)"/>
<circle cx="244.15" cy="165.5" r="3.18" fill="url(#gSe)"/>
<circle cx="249.8" cy="167.4" r="3.26" fill="url(#gSe)"/>
<circle cx="255.45" cy="169.3" r="3.34" fill="url(#gSe)"/>
<text class="ar" x="88.8" y="163.6" font-size="17.6" fill="#16a0ff" stroke="#16a0ff" stroke-width="0.35">Ti</text>
<text class="ar" x="122.6" y="199.6" font-size="17.6" fill="#ff700f" stroke="#ff700f" stroke-width="0.35">Se</text>
<ellipse cx="183.2" cy="76.9" rx="13.4" ry="5.3" fill="none" stroke="#000" stroke-width="1.5"/>
<rect x="176" y="66" width="7" height="6.5" fill="#fff"/>
<line x1="183" y1="135.5" x2="183" y2="66" stroke="#000" stroke-width="3.4"/>
<polygon points="182.8,56.6 189.8,69.4 182.8,66.2 175.8,69.4" fill="#000"/>
<path d="M184.4 72.2 l4.8 -2.4 l-0.4 4.8 z" fill="#000"/>
<text class="ar" transform="translate(184.1,51.7) scale(1.13,1)" font-size="18.5" font-weight="bold" text-anchor="middle">Q</text>
<text class="ar" transform="translate(194.3,74.3) scale(1.18,1)" font-size="16.5">ψ</text>
<text class="ar" x="117.6" y="94.2" font-size="18.5" font-weight="bold">k<tspan dy="4.2" font-size="18">i</tspan></text>
<text class="ar" x="243" y="91.5" font-size="18.5" font-weight="bold">k<tspan dy="4.2" font-size="18">f</tspan></text>
<path d="M137.5 96.5 C137.3 97.75 136.57 101.82 136.3 104 C136.03 106.18 135.57 108.45 135.9 109.6 C136.23 110.75 137.03 111.27 138.3 110.9 C139.57 110.53 141.83 108.47 143.5 107.4 C145.17 106.33 147.17 104.7 148.3 104.5 C149.43 104.3 150.02 104.87 150.3 106.2 C150.58 107.53 150.1 110.47 150 112.5 C149.9 114.53 149.33 117.2 149.7 118.4 C150.07 119.6 150.95 120.07 152.2 119.7 C153.45 119.33 155.63 117.27 157.2 116.2 C158.77 115.13 160.57 113.5 161.6 113.3 C162.63 113.1 163.1 113.72 163.4 115 C163.7 116.28 163.33 119.08 163.4 121 C163.47 122.92 162.87 124.75 163.8 126.5 C164.73 128.25 168.13 130.67 169 131.5" fill="none" stroke="#12a012" stroke-width="3.7" stroke-linejoin="round" stroke-linecap="round"/>
<polygon points="174.6,136.6 163.8,133.4 168.3,130.6 169.6,125.6" fill="#12a012"/>
<path d="M188 133 C189.18 133.4 192.83 134.73 195.1 135.4 C197.37 136.07 200.05 137.12 201.6 137 C203.15 136.88 204.37 136.02 204.4 134.7 C204.43 133.38 202.75 130.92 201.8 129.1 C200.85 127.28 199.15 125.28 198.7 123.8 C198.25 122.32 198.37 120.9 199.1 120.2 C199.83 119.5 201.43 119.23 203.1 119.6 C204.77 119.97 207.38 121.73 209.1 122.4 C210.82 123.07 212.4 123.87 213.4 123.6 C214.4 123.33 215.32 122.22 215.1 120.8 C214.88 119.38 213.17 116.93 212.1 115.1 C211.03 113.27 209.13 111.2 208.7 109.8 C208.27 108.4 208.6 107.25 209.5 106.7 C210.4 106.15 212.33 106.12 214.1 106.5 C215.87 106.88 218.4 108.42 220.1 109 C221.8 109.58 222.98 110.67 224.3 110 C225.62 109.33 226.83 106.62 228 105 C229.17 103.38 230.75 101.08 231.3 100.3" fill="none" stroke="#12a012" stroke-width="3.7" stroke-linejoin="round" stroke-linecap="round"/>
<polygon points="235.5,94.4 234.3,105.8 230.6,101.8 224.5,100.2" fill="#12a012"/>
<line x1="47.3" y1="263.9" x2="36.2" y2="234" stroke="#0a0aee" stroke-width="3.4"/>
<polygon points="31,223.3 42.3,233.5 31.5,237.5" fill="#0a0aee"/>
<line x1="47.3" y1="263.9" x2="76" y2="254.5" stroke="#e60000" stroke-width="3.4"/>
<polygon points="87.9,250.8 75.5,259.8 72.5,250" fill="#e60000"/>
<polygon points="86.5,251.2 75,256.2 73.8,252.6" fill="#ff8a8a" fill-opacity="0.75"/>
<text class="ar" x="31" y="262.5" font-size="11.5" font-weight="bold">b</text>
<circle cx="39.3" cy="260.6" r="4.6" fill="url(#gGreen)"/>
<circle cx="47.3" cy="263.9" r="5" fill="url(#gGrey)"/>
<text class="ar" x="25.5" y="219" font-size="11.5" font-weight="bold">c</text>
<text class="ar" x="93.5" y="251.5" font-size="11.5" font-weight="bold">a</text>
<text class="ar lb" transform="translate(28.7,337) scale(1.065,1.02)" font-size="25">(b)</text>
<g stroke="#2b35a8" stroke-width="1.1" stroke-linejoin="round">
<polygon points="95.6,478.8 111.6,503.8 116.7,510.7 207.4,482 280.9,423.3 270.9,402.6 261.3,390.7 240,398" fill="#4ea9ee"/>
<polygon points="95.6,478.8 170.2,421.1 261.3,390.7 275.2,419.6 203,476.5 111.6,503.8" fill="#62bdfc"/>
<polyline points="203,476.5 207.4,482" fill="none"/>
</g>
<line x1="186.99" y1="450.86" x2="192.01" y2="454.14" stroke="#39b54a" stroke-width="7"/>
<line x1="206.36" y1="463.98" x2="221.44" y2="473.82" stroke="#39b54a" stroke-width="7"/>
<line x1="236.36" y1="483.58" x2="251.44" y2="493.42" stroke="#39b54a" stroke-width="7"/>
<line x1="266.37" y1="503.09" x2="272.23" y2="506.91" stroke="#39b54a" stroke-width="7"/>
<path d="M216.1 427 Q230 447.5 211.7 465.7" fill="none" stroke="#000" stroke-width="1.2"/>
<text class="ar" x="226.3" y="445.8" font-size="14.5">2θ</text>
<line x1="186.3" y1="449.3" x2="167.06" y2="402.34" stroke="#8c0a3c" stroke-width="3.4"/>
<polygon points="162.7,391.7 174.4,403.12 167.06,402.34 162.37,408.04" fill="#8c0a3c"/>
<line x1="186.3" y1="449.3" x2="199.31" y2="424.76" stroke="#8c0a3c" stroke-width="3.4"/>
<polygon points="204.7,414.6 203.42,430.9 199.31,424.76 191.93,424.81" fill="#8c0a3c"/>
<line x1="186.3" y1="449.3" x2="240.84" y2="419.07" stroke="#8c0a3c" stroke-width="3.4"/>
<polygon points="250.9,413.5 240.93,426.46 240.84,419.07 234.63,415.09" fill="#8c0a3c"/>
<line x1="86.9" y1="365.3" x2="170.83" y2="436.25" stroke="#39b54a" stroke-width="7"/>
<polygon points="188.4,451.1 158.9,440.3 170.83,436.25 172.84,423.81" fill="#39b54a"/>
<line x1="186.3" y1="449.3" x2="265.14" y2="372.05" stroke="#39b54a" stroke-width="7"/>
<polygon points="280.5,357 268.35,383.89 265.14,372.05 253.37,368.6" fill="#39b54a"/>
<line x1="186.3" y1="449.3" x2="186.3" y2="303.1" stroke="#000" stroke-width="5"/>
<polygon points="186.3,293.6 193.6,307.6 186.3,303.1 179,307.6" fill="#000"/>
<text class="ar" x="187.7" y="291.2" font-size="18.5" font-weight="bold" text-anchor="middle">Q</text>
<g class="ar" font-size="17.6" fill="#8c0a3c" stroke="#8c0a3c" stroke-width="0.25">
<text x="117.5" y="377">[0, 0, 1]</text>
<text x="189" y="408">[0, 1, 0]</text>
<text x="258" y="430">[1, 0, 0]</text>
</g>
<text class="ar" x="74.5" y="360" font-size="18.5" font-weight="bold">k<tspan dy="4.2" font-size="18">i</tspan></text>
<text class="ar" x="283.5" y="352" font-size="18.5" font-weight="bold">k<tspan dy="4.2" font-size="18">f</tspan></text>
<text class="ar" x="69.3" y="379.3" font-size="16.5" font-weight="bold" font-style="italic" stroke="#000" stroke-width="0.7">σ</text>
<line x1="103.5" y1="382" x2="89.4" y2="377.55" stroke="#8a8a8a" stroke-width="2"/>
<polygon points="83.2,375.6 92.36,374.82 89.4,377.55 90.25,381.49" fill="#8a8a8a"/>
<line x1="103.5" y1="382" x2="120.56" y2="386.98" stroke="#000" stroke-width="2"/>
<polygon points="126.8,388.8 117.66,389.78 120.56,386.98 119.62,383.06" fill="#000"/>
<g fill="none" stroke-width="1.5">
<ellipse cx="131" cy="404.6" rx="14" ry="8.6" transform="rotate(-50 131 404.6)" stroke="#0000ff"/>
<ellipse cx="146.6" cy="417.8" rx="14" ry="8.6" transform="rotate(-50 146.6 417.8)" stroke="#ff0000"/>
</g>
<polygon points="118.6,400.6 117.4,408.6 124.2,406.2" fill="#0000ff"/>
<polygon points="140.8,409 147.2,404 148.2,411.4" fill="#ff0000"/>
<text class="ar" x="92" y="421.2" font-size="14" font-weight="bold" fill="#0000ff" letter-spacing="0.5">RC</text>
<text class="ar" x="111.2" y="440.3" font-size="14" font-weight="bold" fill="#ff0000" letter-spacing="0.5">LC</text>
</svg></body></html>
